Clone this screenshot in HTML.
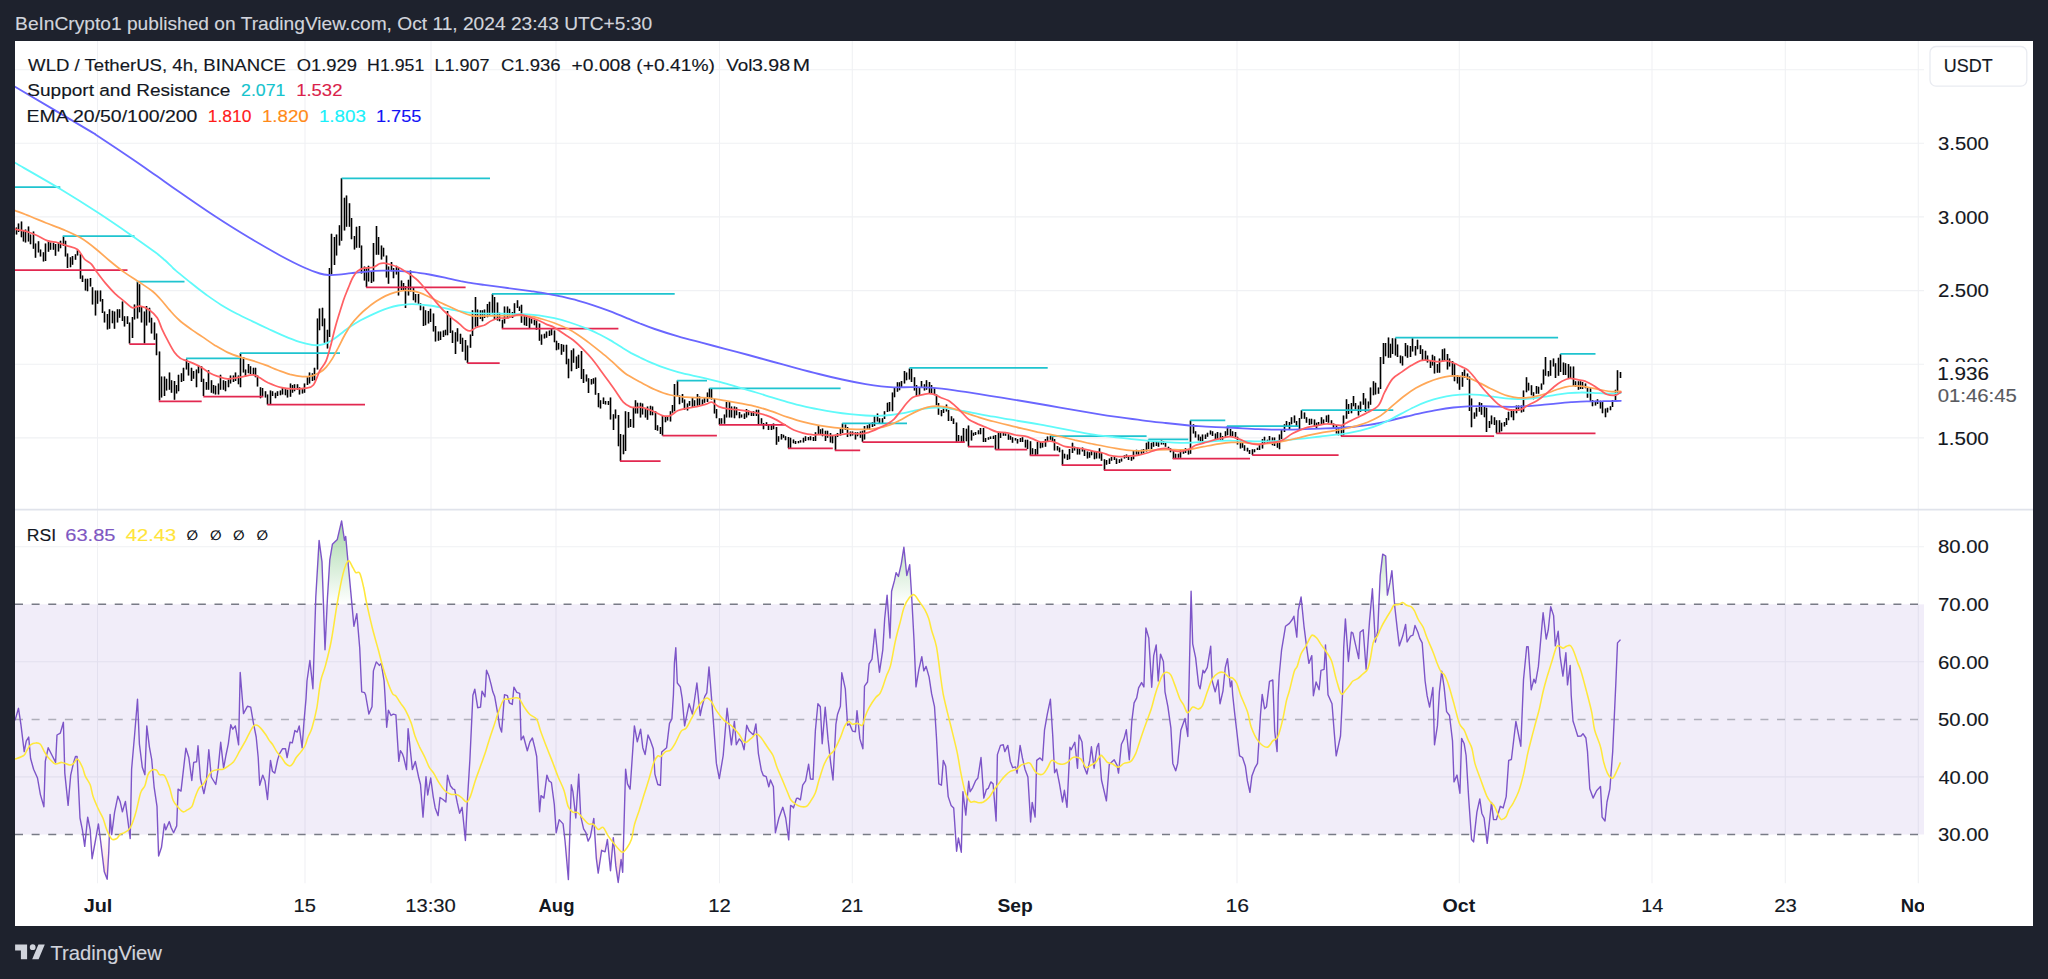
<!DOCTYPE html>
<html lang="en"><head><meta charset="utf-8"><title>WLD / TetherUS chart</title>
<style>html,body{margin:0;padding:0;background:#1e222d;}body{width:2048px;height:979px;overflow:hidden;}svg{display:block;}</style>
</head><body>
<svg width="2048" height="979" viewBox="0 0 2048 979">
<defs>
<clipPath id="cpP"><rect x="15" y="41" width="1909" height="468.6"/></clipPath>
<clipPath id="cpR"><rect x="15" y="509.6" width="1909" height="376.7"/></clipPath>
<clipPath id="cpN"><rect x="15" y="885" width="1909" height="41"/></clipPath>
<linearGradient id="gG" x1="0" y1="520" x2="0" y2="604.3" gradientUnits="userSpaceOnUse"><stop offset="0" stop-color="#4caf50" stop-opacity="0.5"/><stop offset="1" stop-color="#4caf50" stop-opacity="0"/></linearGradient>
<linearGradient id="gR" x1="0" y1="834.5" x2="0" y2="885" gradientUnits="userSpaceOnUse"><stop offset="0" stop-color="#ff5252" stop-opacity="0"/><stop offset="1" stop-color="#ff5252" stop-opacity="0.28"/></linearGradient>
</defs>
<rect width="2048" height="979" fill="#1e222d"/>
<rect x="15" y="41" width="2018" height="885" fill="#fff"/>
<path d="M97.5 41 V883.3M305 41 V883.3M431 41 V883.3M556 41 V883.3M719.5 41 V883.3M852.3 41 V883.3M1015.3 41 V883.3M1237 41 V883.3M1459.3 41 V883.3M1652 41 V883.3M1785.3 41 V883.3M1918.3 41 V883.3M15 69.7 H1924M15 143.3 H1924M15 216.9 H1924M15 290.6 H1924M15 364.2 H1924M15 437.9 H1924M15 546.7 H1924M15 661.8 H1924M15 776.9 H1924" stroke="#f0f1f4" stroke-width="1.1" fill="none"/>
<path d="M15 509.6 H2033" stroke="#e0e3eb" stroke-width="1.6"/>
<g clip-path="url(#cpR)">
<rect x="15" y="604.3" width="1909" height="230.2" fill="#7e57c2" fill-opacity="0.105"/>
<path d="M315.5 604.3L315.5 604.3L315.8 597L319.1 540.4L322 561.9L323.4 604.3L323.4 604.3ZM327.2 604.3L327.2 604.3L327.5 597L329.8 559.9L332.4 544.3L337.3 539.4L341.6 520.9L344.5 540.4L345.7 536.5L348 561.9L350.9 593.1L351.9 604.3L351.9 604.3ZM886.1 604.3L886.1 604.3L887.1 595.1L887.7 604.3L887.7 604.3ZM891.1 604.3L891.1 604.3L891.6 591.2L894.5 580.4L896.1 572.6L898.4 576.5L901.3 563.8L903.9 547.2L906.8 575.5L909.7 564.8L911.7 597L912.1 604.3L912.1 604.3ZM1190.8 604.3L1190.8 604.3L1191.1 591.2L1191.5 604.3L1191.5 604.3ZM1299.5 604.3L1299.5 604.3L1301.1 597L1301.8 604.3L1301.8 604.3ZM1371 604.3L1371 604.3L1372.4 588.8L1373.2 604.3L1373.2 604.3ZM1378.9 604.3L1378.9 604.3L1380.2 575.5L1382.7 554.1L1385.7 556L1387.4 595.1L1390 582.4L1391.9 570.7L1394.6 604.3L1394.6 604.3Z" fill="url(#gG)"/>
<path d="M83.1 834.5L83.1 834.5L84.7 846.4L85.9 834.5L85.9 834.5ZM90.5 834.5L90.5 834.5L92.1 858.7L95.1 842.5L96.5 834.5L96.5 834.5ZM99.8 834.5L99.8 834.5L100.9 843.4L104.3 871.8L107.2 879.2L108.8 851.2L109.4 834.5L109.4 834.5ZM111.7 834.5L111.7 834.5L111.7 834.6L111.7 834.5L111.7 834.5ZM129.7 834.5L129.7 834.5L130.2 838.6L130.3 834.5L130.3 834.5ZM157.9 834.5L157.9 834.5L158.6 856.1L161.5 847.3L163.1 834.5L163.1 834.5ZM464.8 834.5L464.8 834.5L465.4 840.5L465.7 834.5L465.7 834.5ZM564.3 834.5L564.3 834.5L565 840.5L568.4 879.6L569.8 834.5L569.8 834.5ZM586.4 834.5L586.4 834.5L588.1 841.1L590.4 836.6L590.8 834.5L590.8 834.5ZM594.8 834.5L594.8 834.5L596.3 858.1L598.2 873.1L601.6 850.3L605.1 851.8L607.4 839.5L610.5 870.8L613.3 837.6L615.8 865.9L618.2 882.5L621.1 859.5L622.7 872.3L623.7 834.5L623.7 834.5ZM787.9 834.5L787.9 834.5L788.7 839.9L789 834.5L789 834.5ZM955.5 834.5L955.5 834.5L956.6 851.2L958.4 838L961.3 852.2L961.7 834.5L961.7 834.5ZM1471.2 834.5L1471.2 834.5L1471.6 839.5L1473.6 841.9L1474.4 834.5L1474.4 834.5ZM1486.1 834.5L1486.1 834.5L1487.2 843.4L1488.2 834.5L1488.2 834.5Z" fill="url(#gR)"/>
<path d="M15 604.3 H1919" stroke="#787b86" stroke-width="1.5" stroke-dasharray="8 8.623" fill="none"/>
<path d="M15 719.4 H1919" stroke="#787b86" stroke-opacity="0.55" stroke-width="1.5" stroke-dasharray="8 8.623" fill="none"/>
<path d="M15 834.5 H1919" stroke="#787b86" stroke-width="1.5" stroke-dasharray="8 8.623" fill="none"/>
<path d="M15 720.4L18.5 708.3L20.9 724.3L24.2 751.6L26.3 740.9L28.7 737L30.6 758.5L33.6 769.2L37.5 778L40.4 794.6L43.9 806.7L45.3 761.4L48.2 747.7L52.1 755.5L55.6 762.4L57 735L60.3 733.1L63.4 722.3L64.8 773.1L68.1 805.4L70.7 775.1L73.6 762.4L75.5 756.5L77.1 756.5L80 818L82.4 829.8L84.7 846.4L87.7 817.1L90.2 829.8L92.1 858.7L95.1 842.5L98.4 823.9L100.9 843.4L104.3 871.8L107.2 879.2L108.8 851.2L110.1 814.5L111.7 834.6L114.6 812.2L117.9 796.2L120.1 801.4L122.4 811.8L125.4 801.4L128.3 823.9L130.2 838.6L131.6 769.2L134.5 736L137.5 699.3L139.4 743.8L142.3 767.3L144.9 774.7L146.8 725.9L149.4 746.8L151.7 759.5L154.1 786.8L157 806.3L158.6 856.1L161.5 847.3L164.4 823.9L165.8 829.8L169.3 821.6L171.2 827.8L173.6 832.7L176.7 825.9L178.1 789.1L181 791.1L183.4 770.2L185.9 748.1L188.8 757.5L191.8 780.5L193.7 762.4L196.6 761.8L198 745.8L200.5 779L203.9 793.6L206.4 780.9L208.8 749.7L211.3 777L215.8 784.5L218.1 769.2L220.7 742.3L223.6 768.2L225.9 755.5L228.3 743.8L230.8 724.7L232.8 729.2L235.3 725.9L238.6 744.8L240.2 672.5L243.5 713.6L247.4 706.3L250.7 707.1L253.3 722.3L256.2 737L258.2 757.5L259.7 785.2L262.7 775.1L265 780.9L267.5 799.5L270.5 760.4L272.4 771.2L274.8 773.1L277.7 759.5L279.6 753.6L282.6 748.7L285.5 748.7L287.1 757.5L290 742.3L292.3 742.9L294.9 730.5L297.2 732.1L299.2 725.9L302.1 747.7L304.1 720.4L306 698.9L307 681L309.9 660.5L312.9 688.8L315.8 597L319.1 540.4L322 561.9L325 649.8L327.5 597L329.8 559.9L332.4 544.3L337.3 539.4L341.6 520.9L344.5 540.4L345.7 536.5L348 561.9L350.9 593.1L353.9 626.3L356.8 613.6L359.7 647.8L361.7 691.8L364.6 692.7L365.6 695L368.9 714.1L372 706.7L373.4 670.9L376.3 661.9L379.3 665.4L381.2 663.4L384.1 681L385.1 697L386.7 727.2L388.4 710.2L391 715.5L393.3 714.1L395.9 714.9L398.8 761.4L400.4 750.7L402.3 753.6L403.7 757.5L406.5 769.6L408.1 728.6L410.1 747.7L412.4 769.6L415.3 761.4L418.6 777L420.5 784.5L423 817.1L426 776.6L427.7 795L430.7 778L433.2 796.6L435.2 807.9L438.1 815.7L440 797.5L443 799.5L445.9 802L447.5 775.1L450.4 785.8L452.7 788.8L454.7 789.7L457.2 802.4L459.6 813.2L462.1 807.3L465.4 840.5L467.4 800.5L469.9 759.5L472.9 695.3L474.8 689.2L477.7 707.7L480.5 707.1L482 691.2L485 696.8L486.5 670.3L488.9 676.1L491.2 684.9L492.8 691.8L494.7 696.6L497.7 713.6L499.6 726.2L501.6 732.1L504.5 694.6L507.4 695.7L509.4 702.8L512.3 704.4L513.9 687.2L516.8 692.3L519.7 693.4L521.1 739.9L523.4 736L527.3 750.7L529.9 741.9L532.4 738L534.8 747.7L536.7 756.5L539.6 811.8L541 795.6L543.9 798.1L546.9 775.1L549 780.9L551.4 782.5L554.3 804.4L556.2 832.7L559.2 819.6L563.1 823.9L565 840.5L568.4 879.6L571.3 784.8L572.9 791.7L575.8 818L578.7 774.1L580.7 816.1L583.6 828.8L585.9 832.7L588.1 841.1L590.4 836.6L593.8 818.4L596.3 858.1L598.2 873.1L601.6 850.3L605.1 851.8L607.4 839.5L610.5 870.8L613.3 837.6L615.8 865.9L618.2 882.5L621.1 859.5L622.7 872.3L625.6 769.2L627.5 783.9L630.1 789.1L634.4 725.9L637.3 741.9L640.6 729.2L642.8 747.7L645.1 754.6L648 735L650.6 740.9L653.3 748.7L654.9 774.1L657.8 784.5L660.4 785.2L661.7 752L666.6 747.7L669.5 723.3L671.9 718.8L673.4 695L674.4 663.4L675.8 647.8L677.3 683L680.3 686.9L682.2 698.6L684.6 725.9L689.1 703.8L692.4 714.1L694.9 697L696.9 683L700.2 715.5L701.8 707.7L704.7 696.6L706.8 692.9L709 667L710.5 684.9L713.5 723.3L716.4 763.4L719.3 778.6L723.2 755.5L727.1 708.3L731.4 744.8L734.4 721.4L736.3 744.8L739.3 738.9L741.8 741.9L744.1 749.7L746.7 725.3L749.2 731.1L753.5 735L755.9 723.9L758.4 753.6L761.3 770.2L763.3 775.5L766.2 776.6L768.8 786.8L770.5 780L773.4 786.8L775.4 832.7L778.9 818L782.8 807.3L785.7 818L788.7 839.9L790.6 805.4L792.6 806.7L793.5 807.9L795.5 801.4L796.5 798.5L797.8 798.1L800.4 799.8L802.7 785.2L805.6 780.9L808.6 764.3L810.5 779L813 779.4L815.4 730.2L817.9 703.8L820.3 706.7L822.2 743.8L825.2 707.1L828.1 739.9L830.6 762.4L833 780L835.9 724.3L837.5 714.5L840.4 706.3L841.8 672.8L845.3 688.8L847.6 725.3L849.6 723.9L852.5 731.1L855.4 731.7L857 710.6L859.9 738.9L862.9 748.7L864.5 686.1L867.5 682L869.1 663.8L872 659.1L875 629.3L877.3 651.7L879.5 672.2L882.8 649.8L884.7 618.5L887.1 595.1L890 638L891.6 591.2L894.5 580.4L896.1 572.6L898.4 576.5L901.3 563.8L903.9 547.2L906.8 575.5L909.7 564.8L911.7 597L914 640L916 686.9L918.9 669.3L921.8 656.6L923.8 670.9L926.1 666.4L929.1 677.1L931.6 693.7L934.5 706.7L936.5 738L938.8 783.9L941.4 785.2L943.3 760.4L945.7 766.3L948.2 796.6L951.1 805.4L953.7 807.9L956.6 851.2L958.4 838L961.3 852.2L962.9 791.7L965.8 815.1L968.7 781.3L970.1 791.7L972.6 787.8L975.5 780.9L977.9 778L981 757.5L983.8 798.1L986.3 789.7L988.2 788.4L990.8 781.9L993.1 783.9L996.1 821L997.4 754.6L1000.5 745.4L1003.3 744.8L1004.8 751.6L1007.8 745.4L1010.3 761.4L1012.7 767.7L1015.6 766.9L1017.1 773.1L1020.1 745.4L1022.4 757.9L1025 769.2L1027.9 777L1030.6 822L1032.2 802.4L1035.1 817.1L1036.7 760.4L1040 757.9L1042.5 760.4L1044.5 730.2L1047.4 713.6L1050.4 699.3L1052.7 735L1054.6 772.7L1056.6 769.2L1059.5 783.9L1062.5 802L1064.4 790.3L1067 807.3L1069.9 747.3L1071.2 749.7L1074.8 742.3L1077.5 768.2L1079.1 735L1082 741.9L1083.9 766.3L1086.9 774.1L1089.8 760.4L1091.4 746.8L1094.1 768.2L1097 747.3L1098.6 743.4L1101.5 780L1106.4 800.9L1109.3 764.3L1114.2 759.8L1117.1 765.3L1118.5 773.1L1121.4 744.2L1124 738.9L1126.3 729.8L1129.3 759.8L1131.8 721.4L1134.1 702.8L1136.7 697.9L1138.6 687.9L1141.6 682.6L1143.9 686.9L1145.9 627.9L1148.8 638L1151.7 687.3L1153.7 655.6L1156.2 644.9L1158.2 681L1160.5 654.1L1163.4 661.5L1165 691.8L1167.9 706.7L1170.9 728.2L1172.8 763.4L1175.7 770.8L1177.7 763.4L1180.8 730.2L1185 718.4L1187.8 736.5L1189.5 663.6L1191.1 591.2L1192.7 643.9L1195.6 657.6L1198.6 684.9L1200.1 688.8L1203 670.3L1204.4 672.8L1207.3 667.3L1210.7 646.2L1212.2 681L1215.2 691.8L1218.1 680L1220 703.8L1223 690.8L1225.3 667.3L1227.5 658.6L1230.4 686.9L1231.8 681L1232.7 695L1234.7 713.6L1237.2 735L1239.6 755.9L1242.5 757.5L1245.4 766.3L1247.4 780.9L1249.9 792.3L1251.9 776.1L1254.8 768.2L1257.5 763.4L1259.1 738L1260.5 714.5L1262.2 694.4L1264.6 708.7L1266.5 706.7L1269.5 681.4L1272.8 680L1274.7 731.1L1277.1 751.6L1278.2 695L1279.2 675.2L1281.6 649.8L1285.5 626.3L1289.4 623.4L1292.3 619.5L1293.9 616.2L1296.8 637.1L1298.2 610.7L1301.1 597L1304 626.3L1307 649.8L1308.9 663.4L1311.8 655.6L1313.4 695.7L1316.1 682L1319.1 689.8L1321 670.3L1324.1 669.3L1325.5 644.9L1328 694.7L1332 703.8L1334.3 733.1L1336.2 755.9L1338.6 744.8L1340.5 736L1342.5 695L1343.7 647.8L1345.4 618.9L1348.4 661.5L1351.3 632.2L1352.9 633.2L1355.8 645.9L1358.7 658.6L1360.1 632.2L1363.2 629.8L1366.1 669.3L1369.5 621.4L1372.4 588.8L1375.3 642L1377.7 631.2L1380.2 575.5L1382.7 554.1L1385.7 556L1387.4 595.1L1390 582.4L1391.9 570.7L1394.8 606.8L1397.4 630.2L1399.3 645.9L1402.7 636.1L1405.6 624.4L1407.1 642L1410.5 636.1L1413 635.1L1415 625.4L1417.9 632.2L1419.8 638.4L1422.2 642.9L1425.1 681L1427.1 695.7L1429.6 707.1L1432.9 687.5L1434.5 744.8L1437.4 725.9L1439.4 691.9L1441.7 671.2L1444.1 686.9L1446.6 711.6L1449.5 715.5L1452.5 740.9L1454 781.9L1457 775.1L1459.9 793.2L1461.6 738.4L1464.2 743.8L1466.1 755.5L1468.7 798.5L1471.6 839.5L1473.6 841.9L1476.9 812.2L1479.8 798.9L1481.8 813.2L1484.1 818L1487.2 843.4L1491.5 802.4L1493.5 819.6L1496.4 819.6L1500.3 806.3L1503.2 807.9L1506.2 796.6L1508.7 760.4L1511.4 759.5L1515.9 721.4L1520.8 746.2L1523.5 679.7L1526.7 646.8L1528.2 646.8L1531.2 689.8L1533.9 679.1L1535.5 683L1538.4 666.4L1540.7 640L1543.1 612.7L1546.2 639L1548.2 630.2L1550.7 606.8L1553.6 615.6L1555.3 645.9L1558.2 631.2L1560 655.6L1562.9 676.1L1565.9 652.7L1567.5 684.9L1570.2 665.4L1571.2 695L1573 721L1574.6 725.9L1577.8 736.2L1581 736L1583 733.7L1585.9 738L1587.5 751.6L1589.8 788.8L1593.1 798.1L1596.6 790.7L1600.5 786.4L1602.1 817.1L1605 821L1607 802L1609.9 788.8L1612.7 751.6L1615.8 684.1L1617.5 642.9L1620.5 639.6" stroke="#7d55c8" stroke-width="1.4" fill="none" stroke-linejoin="round"/>
<path d="M15 759.1C16.5 758.5 21.8 756.9 23.8 755.5C25.7 754.1 25.6 752.5 26.7 750.7C27.9 748.9 29.2 746.1 30.6 744.8C32.1 743.5 33.9 742.9 35.5 742.9C37.1 742.8 38.9 742.8 40.4 744.2C41.9 745.7 43 749.4 44.3 751.6C45.6 753.9 46.4 755.5 48.2 757.5C50 759.5 52.8 762.9 55 763.8C57.3 764.6 59.4 762.2 61.9 762.4C64.3 762.6 67.7 764.8 69.7 764.9C71.6 765.1 72.3 764.3 73.6 763.4C74.9 762.4 76 758.4 77.5 759.1C79 759.7 81.1 764.4 82.4 767.3C83.7 770.1 84 773.1 85.3 776.1C86.6 779 88.9 781.4 90.2 784.8C91.5 788.3 91.8 792.7 93.1 796.6C94.4 800.5 96.4 804.7 98 808.3C99.6 811.9 101.4 814.5 102.9 818C104.4 821.6 105.3 826.3 106.8 829.8C108.3 833.3 110.1 837.6 111.7 839C113.3 840.5 115.1 839.4 116.6 838.6C118 837.7 119.2 835 120.5 834.1C121.8 833.1 122.7 833.7 124.4 832.7C126 831.7 128.4 830.7 130.2 827.8C132 824.9 133.8 819.2 135.1 815.1C136.4 811 137.1 807.3 138 803.4C139 799.5 139.8 794.6 141 791.7C142.1 788.8 143.7 788.6 144.9 785.8C146 783.1 146.7 777.7 147.8 775.1C149 772.5 150.3 771 151.7 770.2C153.2 769.4 155.3 769.4 156.6 770.2C157.9 770.9 158.2 773.8 159.5 774.7C160.8 775.6 162.8 773.5 164.4 775.5C166 777.5 167.8 782.6 169.3 786.8C170.8 791 171.7 797.1 173.2 800.5C174.7 803.9 176.5 805.4 178.1 807.3C179.7 809.2 181.5 811.3 183 811.8C184.4 812.3 185.4 811.1 186.9 810.2C188.3 809.4 190.5 808.7 191.8 806.7C193.1 804.8 193.5 801.5 194.7 798.5C195.8 795.5 197.1 791.2 198.6 788.8C200.1 786.3 201.8 786 203.5 783.9C205.1 781.8 206.9 778.2 208.4 776.1C209.8 773.9 210.6 772.2 212.3 771.2C213.9 770.1 216.3 769.9 218.1 769.6C219.9 769.3 221.4 769.8 223 769.2C224.6 768.7 226.1 767.6 227.9 766.3C229.7 765 231.8 763.9 233.8 761.4C235.7 758.9 237.7 754.6 239.6 751.2C241.6 747.7 243.8 743.9 245.5 740.9C247.1 737.9 248.1 735.5 249.4 733.1C250.7 730.6 252 727.6 253.3 726.2C254.6 724.9 255.9 724.9 257.2 725.3C258.5 725.7 259.6 727 261.1 728.6C262.6 730.2 264.7 733.2 266 735C267.3 736.9 267.8 738.3 268.9 739.9C270 741.5 271.5 742.9 272.8 744.8C274.1 746.8 275.3 749.5 276.7 751.6C278.2 753.8 280.1 755.5 281.6 757.5C283.1 759.5 284.2 762 285.5 763.4C286.8 764.8 288.3 765.7 289.4 765.9C290.6 766.1 291.2 765.7 292.3 764.3C293.5 762.9 294.8 759.6 296.2 757.5C297.7 755.4 299.7 753.6 301.1 751.6C302.6 749.7 303.9 748.2 305 745.8C306.2 743.3 306.8 739.9 308 737C309.1 734.1 310.4 733 311.9 728.2C313.3 723.4 315.3 716 316.8 708.2C318.2 700.3 319.2 688.1 320.7 681C322.1 673.9 323.8 672.2 325.5 665.4C327.3 658.6 329.5 650.4 331.4 640C333.4 629.6 335.3 614 337.3 602.9C339.2 591.8 341.3 580.6 343.1 573.6C344.9 566.6 346.6 561.9 348.2 560.9C349.8 559.9 351.6 565.8 352.9 567.7C354.2 569.7 354.7 571.7 355.8 572.6C357 573.5 358.4 570.8 359.7 573.2C361 575.6 362.5 582.3 363.6 587.3C364.8 592.2 365.1 596.1 366.6 602.9C368 609.7 370.5 620.5 372.4 628.3C374.4 636.1 376.3 642.6 378.3 649.8C380.2 656.9 381.9 664.1 384.1 671.2C386.4 678.4 390 688.6 392 692.7C393.9 696.9 394.5 694.3 395.9 696C397.3 697.7 398.7 700.4 400.4 702.8C402 705.3 404 707.3 405.7 710.6C407.5 714 409.6 718.6 411.1 722.8C412.7 727.1 413.6 732 415 736C416.4 740 417.8 743 419.5 746.8C421.3 750.5 423.8 755.1 425.4 758.5C427 761.9 427.8 764.7 429.3 767.3C430.8 769.9 432.6 771.5 434.2 774.1C435.8 776.7 437.3 780.1 439.1 782.9C440.9 785.7 443 788.8 444.9 790.7C446.9 792.6 448.8 793.6 450.8 794.2C452.7 794.9 454.9 794.1 456.6 794.6C458.4 795.2 459.9 796.3 461.5 797.5C463.2 798.8 464.9 802.2 466.4 802C467.9 801.9 468.8 800.1 470.3 796.6C471.8 793 473.6 785.8 475.2 780.9C476.8 776.1 478.5 771.8 480.1 767.3C481.7 762.7 483.5 758 485 753.6C486.4 749.2 487.4 745.5 488.9 740.9C490.3 736.3 492.1 731.1 493.8 726.2C495.4 721.4 497 716 498.6 711.6C500.3 707.2 502.1 701.9 503.5 699.9C505 697.8 505.6 699.6 507.4 699.3C509.2 699 512.3 698.1 514.3 697.9C516.2 697.8 517.5 697.1 519.1 698.5C520.8 700 522.2 704 524 706.7C525.8 709.4 527.8 712.4 529.9 714.5C532 716.6 534.9 716.6 536.7 719.4C538.5 722.2 539 726.6 540.6 731.1C542.3 735.7 544.5 741.7 546.5 746.8C548.4 751.8 550.4 756.4 552.3 761.4C554.3 766.5 556.2 772.1 558.2 777C560.2 781.9 562.4 785.7 564.1 790.7C565.7 795.7 566.8 803.2 568.3 806.8C569.7 810.4 571.3 811.2 572.9 812.2C574.4 813.1 575.9 811.4 577.7 812.6C579.5 813.7 581.8 817.1 583.6 819C585.4 820.9 586.8 823 588.5 823.9C590.1 824.8 591.7 823.4 593.4 824.3C595 825.2 596.6 828.9 598.2 829.4C599.9 829.9 601.5 826.4 603.1 827.4C604.8 828.5 606.2 833 608 835.6C609.8 838.3 612.1 841.2 613.9 843.4C615.7 845.7 617.3 847.8 618.8 849.3C620.2 850.8 621.4 852.4 622.7 852.2C624 852.1 625.1 850.4 626.6 848.3C628 846.2 630.1 843.4 631.4 839.5C632.7 835.6 633.1 829.8 634.4 824.9C635.7 820 637.6 815.3 639.3 810.2C640.9 805.2 642.5 799.8 644.1 794.6C645.8 789.4 647.4 784.4 649 779C650.7 773.6 652.4 766.2 653.9 762.4C655.4 758.5 656.7 756.9 657.8 755.9C659 755 659.4 757.2 660.7 756.5C662 755.8 664 752.7 665.6 751.6C667.3 750.6 668.9 751.5 670.5 750.1C672.1 748.6 673.6 746 675.4 742.9C677.2 739.7 679.5 733.6 681.2 731.1C683 728.7 684.5 730.2 686.1 728.2C687.8 726.2 689.2 722.7 691 719.4C692.8 716.2 695.1 711.6 696.9 708.7C698.7 705.7 700.1 703.6 701.8 701.8C703.5 700 705.4 697.9 707 697.9C708.7 697.9 710 699.7 711.5 701.8C713.1 704 714.3 707.5 716.4 710.6C718.5 713.7 721.6 717.8 724.2 720.4C726.8 723 729.6 724 732 726.2C734.5 728.5 736.8 731.4 738.9 734.1C741 736.7 742.8 741.5 744.7 742.3C746.7 743.1 748.6 740.3 750.6 738.9C752.5 737.6 754.7 734.2 756.4 734.1C758.2 733.9 759.5 735.9 761.3 738C763.1 740.1 765.2 743.8 767.2 746.8C769.1 749.7 771.4 752.1 773 755.5C774.7 759 775.3 763 777 767.3C778.6 771.5 781 776.7 782.8 780.9C784.6 785.2 786.4 789.6 787.7 792.7C789 795.7 789.4 797.6 790.6 799.5C791.9 801.4 793.6 802.7 795.2 803.9C796.8 805.1 798.5 806.1 800.4 806.5C802.3 806.9 804.9 807.2 806.6 806.3C808.3 805.5 809 803.7 810.5 801.4C812 799.2 813.9 796.4 815.4 792.7C816.9 788.9 817.8 783.7 819.3 779C820.8 774.3 822.6 768.2 824.2 764.3C825.8 760.4 827.4 757.8 829.1 755.5C830.7 753.3 832.2 753.4 833.9 750.7C835.7 747.9 838 743 839.8 738.9C841.6 734.9 843.2 729.2 844.7 726.2C846.2 723.3 847.3 721.7 848.6 721.4C849.9 721 851 724 852.5 724.3C854 724.6 855.8 723.2 857.4 723.3C859 723.5 861 726.4 862.3 725.3C863.6 724.1 864.1 719.4 865.2 716.5C866.3 713.6 867.3 710.9 869.1 707.7C870.9 704.5 874.1 699.6 875.9 697.3C877.7 695 878.7 695.4 879.8 693.7C881 692 881.6 690 882.8 686.9C883.9 683.8 885.4 678.7 886.7 675.2C888 671.6 889.1 671.2 890.6 665.4C892.1 659.6 893.8 647.8 895.5 640.5C897.1 633.2 898.9 627.1 900.4 621.4C901.8 615.8 902.8 610.7 904.3 606.8C905.7 602.9 907.5 600 909.1 598C910.8 596 912.4 594.2 914 594.7C915.7 595.2 917.1 598.4 918.9 600.9C920.7 603.4 923.1 606.8 924.8 609.7C926.4 612.7 927.5 615.1 928.7 618.5C929.8 621.9 930.3 625.5 931.6 630.2C932.9 635 935 639.3 936.5 646.8C937.9 654.3 939.3 667.2 940.4 675.2C941.5 683.1 942.2 688.6 943.3 694.7C944.5 700.8 945.8 705.5 947.2 711.6C948.7 717.7 950.5 724.5 952.1 731.1C953.7 737.8 955.5 744.6 957 751.6C958.5 758.6 959.6 766.6 960.9 773.1C962.2 779.6 963.7 786.6 964.8 790.7C965.9 794.8 966.8 795.7 967.7 797.5C968.7 799.4 969.5 801.4 970.7 802C971.8 802.7 973.3 801.3 974.6 801.4C975.9 801.6 977 802.7 978.5 802.8C979.9 802.9 981.6 802.9 983.4 802C985.1 801.1 987.4 799.4 989.2 797.3C991 795.3 992.3 792.3 994.1 789.7C995.9 787.2 998.2 784.2 1000 781.9C1001.8 779.6 1003.1 777.8 1004.8 776.1C1006.6 774.3 1008.8 772.3 1010.7 771.2C1012.7 770 1014.8 770.3 1016.6 769.2C1018.4 768.2 1019.8 765.9 1021.4 764.9C1023.1 763.9 1024.9 763.6 1026.3 763.4C1027.8 763.1 1028.6 761.8 1030.2 763.4C1031.9 764.9 1034 770.9 1036.1 772.7C1038.2 774.5 1041 775 1042.9 774.1C1044.9 773.2 1046.3 769.5 1047.8 767.3C1049.3 765 1050.1 761.1 1051.7 760.4C1053.3 759.8 1055.8 762.7 1057.6 763.4C1059.4 764 1060.8 764.5 1062.5 764.3C1064.1 764.2 1065.7 763.5 1067.3 762.4C1069 761.3 1070.8 758.8 1072.2 757.9C1073.7 757 1074.7 756.9 1076.1 757.1C1077.6 757.3 1079.4 757.4 1081 759.1C1082.6 760.8 1084.3 766.2 1085.9 767.3C1087.5 768.3 1089.2 766.1 1090.8 765.3C1092.4 764.5 1094 764 1095.7 762.4C1097.3 760.8 1099.2 756.4 1100.5 755.5C1101.8 754.7 1102.3 756.4 1103.5 757.5C1104.6 758.6 1105.9 761.3 1107.4 762.4C1108.8 763.4 1110.5 762.9 1112.3 763.8C1114.1 764.6 1116.2 767.3 1118.1 767.3C1120.1 767.2 1121.9 764.3 1124 763.4C1126.1 762.4 1128.9 763 1130.8 761.4C1132.8 759.8 1134.2 756.8 1135.7 753.6C1137.2 750.3 1138 746.7 1139.6 741.9C1141.2 737.1 1143.5 730.3 1145.5 724.8C1147.4 719.3 1149.7 713.7 1151.3 708.7C1153 703.6 1153.9 698.6 1155.2 694.4C1156.5 690.1 1157.8 686.3 1159.1 683C1160.4 679.6 1161.7 676 1163 674.2C1164.3 672.4 1165.7 672.1 1167 672.2C1168.3 672.4 1169.6 673 1170.9 675.2C1172.2 677.3 1173.3 681 1174.8 684.9C1176.3 688.9 1178.4 695.4 1179.8 698.8C1181.3 702.1 1182.3 702.4 1183.6 704.8C1184.9 707.1 1186.1 712.4 1187.6 712.8C1189.2 713.2 1190.9 707.7 1192.7 707.1C1194.5 706.5 1196.9 709.3 1198.6 709.1C1200.2 708.8 1201 708.6 1202.5 705.7C1203.9 702.9 1205.7 696.2 1207.3 691.8C1209 687.3 1210.4 682.2 1212.2 679.1C1214 676 1216.2 674.3 1218.1 673.2C1220 672.1 1221.7 671.8 1223.5 672.4C1225.2 673.1 1227.3 676.2 1228.8 677.1C1230.4 678.1 1231.4 677.1 1232.7 678.1C1234 679.1 1235.3 680.2 1236.6 683C1237.9 685.7 1238.8 689.9 1240.5 694.7C1242.3 699.5 1245.6 706.2 1247.4 711.6C1249.2 717 1249.5 722.3 1251.3 727.2C1253.1 732.1 1255.5 737.5 1258.1 740.9C1260.7 744.3 1264.5 747.3 1266.9 747.3C1269.4 747.3 1271 742.6 1272.8 740.9C1274.6 739.2 1276 740.4 1277.7 737C1279.3 733.6 1281.1 726.4 1282.5 720.4C1284 714.4 1285.3 705.8 1286.4 700.9C1287.6 695.9 1288.1 695.7 1289.4 690.8C1290.7 685.8 1293 675.3 1294.3 671.2C1295.6 667.2 1296 669.3 1297.2 666.4C1298.3 663.4 1299.6 657.1 1301.1 653.7C1302.6 650.3 1304.5 648.5 1306 645.9C1307.4 643.3 1308.8 639.8 1309.9 638C1311 636.3 1311.3 635.1 1312.4 635.1C1313.6 635.1 1315.4 636.6 1316.7 638C1318.1 639.5 1319.2 641.8 1320.6 643.9C1322.1 646 1323.7 648 1325.5 650.7C1327.3 653.5 1329.6 655.8 1331.4 660.5C1333.2 665.2 1334.6 673.5 1336.2 679.1C1337.9 684.6 1339.5 691.9 1341.1 693.7C1342.8 695.5 1344.6 691.3 1346 689.8C1347.5 688.3 1348.8 686.4 1349.9 684.9C1351.1 683.5 1351.5 682.1 1352.9 681C1354.2 680 1356.1 679.8 1357.7 678.7C1359.4 677.5 1361 675.7 1362.6 674.2C1364.2 672.6 1366.2 671.9 1367.5 669.3C1368.8 666.7 1369.5 663.1 1370.4 658.6C1371.4 654 1372.2 645.7 1373.4 642C1374.5 638.2 1376 638.5 1377.3 636.1C1378.6 633.7 1379.7 630.2 1381.2 627.3C1382.6 624.4 1384.4 621.3 1386.1 618.5C1387.7 615.7 1389.6 612.9 1390.9 610.7C1392.2 608.5 1392.6 606.3 1393.9 605.2C1395.2 604.2 1397.3 604.9 1398.8 604.5C1400.2 604 1401.4 602.4 1402.7 602.5C1404 602.6 1405.1 604.6 1406.6 605.3C1408 606 1410.1 605.9 1411.4 606.8C1412.7 607.7 1413.2 608.6 1414.4 610.7C1415.5 612.8 1416.8 616.7 1418.3 619.5C1419.7 622.3 1421.7 624.2 1423.2 627.3C1424.6 630.4 1425.4 634 1427.1 638C1428.7 642.1 1431.3 647.6 1432.9 651.7C1434.6 655.8 1435.5 659.2 1436.8 662.5C1438.1 665.7 1439.4 669.1 1440.7 671.2C1442 673.4 1443.3 672.9 1444.6 675.2C1446 677.4 1447.1 680.5 1448.6 684.9C1450 689.3 1451.6 695.3 1453.4 701.7C1455.2 708.1 1457.5 718.6 1459.3 723.3C1461.1 728.1 1462.7 727.4 1464.2 730.2C1465.6 732.9 1466.8 736.8 1468.1 739.9C1469.4 743 1470.9 744.8 1472 748.7C1473.1 752.6 1473.5 758.2 1474.9 763.4C1476.4 768.6 1478.8 774.6 1480.8 780C1482.7 785.3 1485 791.9 1486.6 795.6C1488.3 799.3 1489.2 800.2 1490.5 802C1491.8 803.8 1493 803.8 1494.5 806.3C1495.9 808.8 1498.1 814.9 1499.3 817.1C1500.6 819.3 1500.7 819.7 1501.9 819.6C1503 819.5 1505 818.2 1506.2 816.5C1507.4 814.8 1508 811.4 1509.1 809.3C1510.2 807.1 1511.4 806.5 1513 803.4C1514.6 800.3 1517.1 795.7 1518.9 790.7C1520.7 785.7 1522.3 779.3 1523.8 773.1C1525.2 766.9 1526.4 759.5 1527.7 753.6C1529 747.7 1530.3 743 1531.6 738C1532.9 732.9 1534.2 728.2 1535.5 723.3C1536.8 718.4 1538.1 714.1 1539.4 708.7C1540.7 703.2 1542 696 1543.3 690.8C1544.6 685.5 1545.7 681.7 1547 677.1C1548.4 672.5 1549.9 667.9 1551.4 662.9C1553 658 1554.9 650.1 1556.3 647.3C1557.6 644.5 1558.4 646.1 1559.5 646.2C1560.6 646.4 1561.8 648.2 1562.9 648.2C1564.1 648.2 1565.3 646.7 1566.5 646.2C1567.8 645.8 1569.2 644.8 1570.4 645.7C1571.7 646.6 1572.6 648.8 1573.9 651.7C1575.1 654.6 1576.6 659.7 1577.8 662.9C1579 666.2 1579.6 666.6 1581 671.2C1582.5 675.9 1584.6 684 1586.4 690.9C1588.2 697.8 1590.4 706 1591.8 712.6C1593.1 719.1 1593.2 724.5 1594.7 730.2C1596.2 735.9 1599.1 741.5 1600.5 746.8C1602 752 1602.3 757 1603.5 761.4C1604.6 765.8 1606.1 770.4 1607.4 773.1C1608.7 775.9 1610.2 777.4 1611.3 778C1612.4 778.7 1612.9 778.3 1613.8 777C1614.8 775.7 1616 772.6 1617.1 770.2C1618.3 767.8 1619.9 763.7 1620.5 762.4" stroke="#ffe83c" stroke-width="1.55" fill="none" stroke-linejoin="round"/>
</g>
<g clip-path="url(#cpP)">
<path d="M1620.5 371.9V378.1M1617.5 370.3V393.8M1615.5 389.8V401.6M1612.5 400V407M1610.5 406.2V410.2M1607.5 407.8V412.5M1605.5 408.6V417.2M1602.5 401.6V413.3M1600.5 400.8V408.6M1597.5 399.2V403.9M1595.5 400.8V405.5M1592.5 400V406.2M1590.5 388.3V401.6M1587.5 387.5V397.7M1585.5 383.6V388.3M1582.5 382V389.1M1580.5 381.2V389.1M1578.5 381.2V389.8M1575.5 381.2V386.7M1573.5 366.4V385.9M1570.5 366.4V378.9M1568.5 364.1V378.1M1565.5 363.3V375M1563.5 362.5V375M1560.5 353.9V371.9M1558.5 357.8V375.8M1555.5 363.3V378.1M1553.5 358.6V366.4M1550.5 360.2V375.8M1548.5 371.1V376.6M1545.5 357V375.8M1543.5 369.5V384.4M1541.5 383.6V389.8M1538.5 386.7V393.8M1536.5 385.9V393.8M1533.5 392.2V399.2M1531.5 385.2V395.3M1528.5 382.8V390.6M1526.5 377.3V392.2M1523.5 390.6V411.7M1521.5 405.5V412.5M1518.5 405.5V410.9M1516.5 405.5V413.3M1513.5 409.4V420.3M1511.5 409.4V417.2M1508.5 411.7V420.3M1506.5 418V425M1504.5 421.9V426.6M1501.5 422.7V431.2M1499.5 420.3V432.8M1496.5 420.3V433.3M1494.5 417.2V425M1491.5 415.6V424.2M1489.5 421.1V428.1M1486.5 407.8V432M1484.5 407V417.2M1481.5 403.1V414.8M1479.5 402.3V411.7M1476.5 407.8V416.4M1474.5 412.5V418.8M1471.5 398.4V427.3M1469.5 376.6V410.9M1467.5 373.4V379.7M1464.5 369.5V378.1M1462.5 371.9V386.7M1459.5 376.6V389.8M1457.5 375V383.6M1454.5 364.1V381.2M1452.5 360.9V376.6M1449.5 358.6V366.4M1447.5 353.9V369.5M1444.5 348.4V360.2M1442.5 349.2V361.7M1439.5 358.6V372.7M1437.5 364.1V372.7M1434.5 356.2V373.4M1432.5 354.7V365.6M1430.5 360.2V368M1427.5 355.5V362.5M1425.5 350.8V360.2M1422.5 349.2V360.9M1420.5 345.3V353.9M1417.5 339.8V349.2M1415.5 346.1V355.5M1412.5 338.3V351.6M1410.5 346.1V357M1407.5 345.3V357.8M1405.5 343V356.2M1402.5 356.2V365.6M1400.5 355.5V363.3M1397.5 344.5V357M1395.5 338.3V355.5M1392.5 338.3V353.9M1390.5 343.8V357.8M1388.5 337.5V357.8M1385.5 343V356.2M1383.5 343V364.1M1380.5 357V389.1M1378.5 387.5V393.8M1375.5 382.8V394.5M1373.5 381.2V395.3M1370.5 387.5V404.7M1368.5 401.6V408.6M1365.5 398.4V411.7M1363.5 393V404.7M1360.5 401.6V411.7M1358.5 405.5V415.6M1355.5 403.1V409.4M1353.5 396.1V406.2M1351.5 403.1V413.3M1348.5 403.9V414.1M1346.5 399.2V418.8M1343.5 415.6V435.2M1341.5 426.6V436.2M1338.5 427.3V435.2M1336.5 425V433.6M1333.5 423.4V428.9M1331.5 420.3V425M1328.5 414.8V422.7M1326.5 415.6V421.9M1323.5 419.5V424.2M1321.5 417.2V425M1318.5 421.9V425.8M1316.5 422.7V428.1M1314.5 419.5V426.6M1311.5 418.8V424.2M1309.5 418.8V425M1306.5 417.2V422.7M1304.5 412.5V418.8M1301.5 410.2V418.8M1299.5 418V428.9M1296.5 421.1V426.6M1294.5 415.6V422.7M1291.5 417.2V424.2M1289.5 421.9V428.9M1286.5 421.1V426.6M1284.5 424.2V432M1281.5 429.7V439.1M1279.5 434.4V449.2M1277.5 443V447.7M1274.5 437.5V446.1M1272.5 437.5V445.3M1269.5 435.9V443.8M1267.5 439.8V443.8M1264.5 436.7V443.8M1262.5 439.1V448.4M1259.5 445.3V450M1257.5 447.7V450M1254.5 449.2V452.3M1252.5 449.2V455M1249.5 450V453.9M1247.5 447.7V451.6M1244.5 445.3V450.8M1242.5 443V447.7M1240.5 441.4V448.4M1237.5 436.7V444.5M1235.5 432V438.3M1232.5 431.2V435.9M1230.5 428.9V435.9M1227.5 426.2V435.2M1225.5 431.2V436.7M1222.5 435.9V439.8M1220.5 432.8V439.8M1217.5 432V439.8M1215.5 433.6V439.1M1212.5 431.2V435.9M1210.5 430.5V434.4M1207.5 432.8V436.7M1205.5 434.4V439.1M1202.5 434.4V443.8M1200.5 436.7V441.4M1198.5 434.4V440.6M1195.5 431.2V437.5M1193.5 424.2V433.6M1190.5 420.5V453.8M1188.5 449.1V454.5M1185.5 448.3V453M1183.5 449.8V453.8M1180.5 449.1V457.7M1178.5 453.8V457.7M1175.5 453.8V458.4M1173.5 449.1V458.9M1170.5 448.3V452.2M1168.5 446.7V449.8M1165.5 442V446.7M1163.5 441.2V444.4M1161.5 440.5V444.4M1158.5 441.2V446.7M1156.5 442V445.9M1153.5 442V446.7M1151.5 442.8V449.1M1148.5 439.7V449.1M1146.5 442.8V451.4M1143.5 449.1V453M1141.5 449.8V453.8M1138.5 450.6V455.3M1136.5 449.8V454.5M1133.5 450.6V459.2M1131.5 456.9V460.8M1128.5 456.1V460M1126.5 454.5V457.7M1124.5 455.3V458.4M1121.5 458.4V461.6M1119.5 459.2V463.1M1116.5 458.4V463.9M1114.5 456.9V460M1111.5 456.9V460.8M1109.5 458.4V463.9M1106.5 460V464.7M1104.5 459.2V470.2M1101.5 453V460.8M1099.5 448.3V458.4M1096.5 451.4V458.4M1094.5 451.4V459.2M1091.5 450.6V455.3M1089.5 452.2V457.7M1087.5 451.4V458.4M1084.5 449.1V456.1M1082.5 447.5V451.4M1079.5 448.3V454.5M1077.5 447.5V454.5M1074.5 446.7V450.6M1072.5 442.8V453M1069.5 449.1V459.2M1067.5 454.5V460M1064.5 453.8V458.4M1062.5 449.8V465M1059.5 447.5V452.2M1057.5 445.9V450.6M1054.5 438.9V450.6M1052.5 437.3V441.2M1050.5 435.8V439.7M1047.5 436.6V442M1045.5 438.9V446.7M1042.5 442.8V447.5M1040.5 442V448.3M1037.5 442V454.5M1035.5 449.1V455.3M1032.5 448.3V454.5M1030.5 441.2V455.3M1027.5 439.7V449.1M1025.5 439.7V447.5M1022.5 437.3V442M1020.5 438.1V442M1017.5 438.9V443.6M1015.5 438.1V440.5M1012.5 437.3V442.8M1010.5 435.8V439.7M1008.5 434.2V439.7M1005.5 433.4V435.8M1003.5 432.7V435.8M1000.5 432.7V438.1M998.5 431.9V449.5M995.5 435V449.5M993.5 435.8V438.9M990.5 436.6V438.9M988.5 437.3V439.7M985.5 438.1V442M983.5 428V442M980.5 428V434.2M978.5 430.3V434.2M975.5 431.9V435M973.5 432.7V435.8M971.5 430.3V440.5M968.5 425.6V446.7M966.5 428.8V441.2M963.5 428V442M961.5 435.8V442M958.5 435V441.2M956.5 422.5V442M953.5 418.6V424.1M951.5 416.2V420.9M948.5 410V420.9M946.5 404.5V411.6M943.5 406.9V413.1M941.5 410V416.2M938.5 403V414.7M936.5 394.4V405.3M934.5 388.1V395.2M931.5 385V393.6M929.5 381.9V393.6M926.5 380.3V389.7M924.5 384.2V390.5M921.5 381.1V388.1M919.5 387.3V395.9M916.5 385V395.9M914.5 377.2V390.5M911.5 368.6V381.9M909.5 368.6V379.5M906.5 372.5V380.3M904.5 370.9V383.4M901.5 381.1V388.1M899.5 382.3V390.2M897.5 382.3V391.7M894.5 387V397.2M892.5 392.5V411.2M889.5 401.9V411.2M887.5 402.7V412M884.5 411.2V419.1M882.5 418.3V423.8M879.5 418.3V423.8M877.5 413.6V421.4M874.5 415.2V426.1M872.5 422.2V426.9M869.5 423V430M867.5 425.3V430M864.5 426.1V439.4M862.5 430.8V441.7M860.5 431.6V437.8M857.5 432.3V436.2M855.5 432.3V439.4M852.5 431.6V435.5M850.5 431.6V436.2M847.5 426.9V437M845.5 424.5V430M842.5 423.4V433.1M840.5 428.4V435.5M837.5 433.1V437M835.5 434.7V450.3M832.5 435.5V443.3M830.5 433.1V442.5M827.5 430.8V437.8M825.5 430.8V440.9M822.5 428.4V436.2M820.5 429.2V434.7M818.5 426.1V433.9M815.5 432.3V440.9M813.5 437V440.9M810.5 436.2V440.2M808.5 437V440.2M805.5 436.2V440.9M803.5 437.8V442.5M800.5 440.2V442.5M798.5 440.9V443.3M795.5 440.9V444.1M793.5 439.4V443.3M790.5 437.8V448.3M788.5 437V448.3M785.5 436.2V440.2M783.5 434.7V437.8M781.5 433.9V439.4M778.5 436.2V441.7M776.5 426.9V444.8M773.5 423.4V429.2M771.5 425.3V430M768.5 424.5V430M766.5 422.2V426.1M763.5 423V429.2M761.5 418.3V423.8M758.5 409.7V424.5M756.5 409.7V415.9M753.5 411.2V415.9M751.5 412V415.9M748.5 410.5V415.2M746.5 408.9V417.5M744.5 413.6V419.1M741.5 414.4V417.5M739.5 412V418.3M736.5 407.3V415.2M734.5 406.6V418.3M731.5 406.6V417.5M729.5 401.9V417.5M726.5 401.9V417.5M724.5 414.4V423.8M721.5 418.3V423.8M719.5 418.3V424.8M716.5 408.9V418.3M714.5 398.8V413.6M711.5 388.4V399.5M709.5 388.4V398.8M707.5 392.5V401.9M704.5 398V402.7M702.5 399.5V405M699.5 396.4V405M697.5 394.1V405.8M694.5 400.3V406.6M692.5 397.2V407.3M689.5 401.1V405.8M687.5 403.4V410.5M684.5 399.5V409.7M682.5 394.1V402.7M679.5 395.6V404.2M677.5 380.5V396.4M674.5 383.9V411.2M672.5 405V412.8M670.5 411.2V421.4M667.5 416.7V420.6M665.5 415.9V422.2M662.5 415.2V435.6M660.5 426.9V433.9M657.5 425.3V430.8M655.5 411.2V430M652.5 406.6V415.2M650.5 405.8V415.2M647.5 406.6V419.8M645.5 408.1V417.5M642.5 403.4V414.4M640.5 402.7V417.5M637.5 402.7V413.6M635.5 400.3V413.6M633.5 407.3V427.7M630.5 419.1V426.9M628.5 412V427.7M625.5 411.2V451.1M623.5 434.7V454.2M620.5 433.9V461.2M618.5 415V446.2M615.5 409.6V418.6M613.5 414.3V429.9M610.5 397.5V419.4M608.5 401V404.9M605.5 401V404.5M603.5 397.5V404.1M600.5 400.2V408.4M598.5 393.1V407.2M595.5 377.5V394.7M593.5 378.3V383.8M591.5 379.1V384.5M588.5 378.3V393.1M586.5 374.4V381.4M583.5 368.9V383M581.5 350.9V379.1M578.5 354.8V368.1M576.5 356.4V368.9M573.5 348.6V362.7M571.5 350.2V371.2M568.5 358.8V378.3M566.5 344.7V364.2M563.5 344.7V351.7M561.5 343.9V354.8M558.5 343.1V349.4M556.5 340.8V350.2M554.5 330.6V342.3M551.5 329.1V335.3M549.5 330.6V336.1M546.5 331.4V337.7M544.5 333.8V338.4M541.5 334.5V344.7M539.5 323.6V340.8M536.5 320.5V329.8M534.5 319.7V325.2M531.5 318.9V323.6M529.5 318.1V328.3M526.5 316.6V325.9M524.5 315V325.2M521.5 304.8V322.8M519.5 306.4V311.1M517.5 300.2V308M514.5 303.3V315M512.5 311.9V318.1M509.5 308.8V316.6M507.5 306.4V318.9M504.5 306.4V323.6M502.5 319.7V328.3M499.5 312.7V321.2M497.5 302.5V320.5M494.5 297V318.9M492.5 293.9V314.2M489.5 301.7V315M487.5 304.1V317.3M484.5 309.5V318.1M482.5 310.3V321.2M480.5 310.3V318.9M477.5 309.5V325.9M475.5 297V326.7M472.5 310.3V336.1M470.5 334.5V347.8M467.5 345.5V363M465.5 340V360.3M462.5 337.7V351.7M460.5 333.8V343.9M457.5 328.3V341.6M455.5 332.2V354.1M452.5 330.6V343.1M450.5 317.3V333M447.5 311.1V335.3M445.5 329.8V335.3M443.5 330.6V336.9M440.5 331.4V340M438.5 331.4V340.8M435.5 325.9V341.6M433.5 313.4V331.4M430.5 308.8V322M428.5 311.1V323.6M425.5 310.3V325.2M423.5 306.4V325.9M420.5 303.3V310.3M418.5 293.9V304.8M415.5 293.9V302.5M413.5 287.7V300.2M410.5 270.5V291.6M408.5 279.8V295.5M405.5 286.1V308M403.5 283V290.8M401.5 280.6V290M398.5 267.3V295.5M396.5 265.8V274.4M393.5 268.1V278.3M391.5 261.9V271.2M388.5 266.6V283.8M386.5 255.6V277.5M383.5 247.8V256.4M381.5 245.5V259.5M378.5 236.9V254.8M376.5 225.9V254.8M373.5 243.1V281.4M371.5 271.2V283M368.5 265.8V281.4M366.5 267.3V287.3M364.5 266.6V280.6M361.5 245.5V273.6M359.5 225.9V247.8M356.5 226.7V247.8M354.5 236.1V249.4M351.5 218.1V239.2M349.5 203.3V226.7M346.5 195.5V226.7M344.5 197.8V230.6M341.5 178.3V240.8M339.5 225.2V245.5M336.5 234.5V255.6M334.5 236.9V265M331.5 233.8V274.4M329.5 268.1V336.9M327.5 329.7V348.4M324.5 318.6V342.8M322.5 307.8V326.2M319.5 308.4V330.3M317.5 318.6V369.4M314.5 367.8V380.3M312.5 373.3V381.1M309.5 372.5V383.4M307.5 377.2V385M304.5 383.4V392.8M302.5 388.1V393.6M299.5 387.3V394.4M297.5 384.2V389.7M294.5 384.2V391.2M292.5 385V392.8M290.5 383.4V396.7M287.5 389.7V397.5M285.5 388.9V395.2M282.5 388.1V394.4M280.5 390.5V395.2M277.5 391.2V395.9M275.5 392.8V398.3M272.5 391.2V395.9M270.5 390.5V404.5M267.5 394.4V404.5M265.5 391.2V397.5M262.5 388.1V395.9M260.5 387.3V398.3M257.5 375.6V386.6M255.5 367.8V377.2M253.5 367.8V374.8M250.5 366.2V374.1M248.5 363.9V373.3M245.5 369.4V376.4M243.5 356.9V372.5M240.5 353V387.3M238.5 375.6V384.2M235.5 372.5V381.1M233.5 375.6V381.9M230.5 375.6V383.4M228.5 379.5V387.3M225.5 381.1V391.2M223.5 380.3V389.7M220.5 374.8V389.7M218.5 383.4V394.4M215.5 385.8V394.4M213.5 385V393.6M211.5 380.3V392.8M208.5 370.2V389.7M206.5 381.9V389.7M203.5 378.8V395.9M201.5 366.2V381.9M198.5 365.5V373.3M196.5 369.4V387.3M193.5 370.9V378.8M191.5 367.8V381.1M188.5 363.1V375.6M186.5 359.2V369.4M183.5 367.8V381.1M181.5 373.3V381.9M178.5 374.8V391.2M176.5 385V393.6M174.5 381.1V399.8M171.5 380.3V392.8M169.5 372.5V389.7M166.5 378.8V390.5M164.5 376.4V395.9M161.5 376.4V397.5M159.5 351.4V400.6M156.5 333.4V355.3M154.5 322.5V339.7M151.5 317.8V333.4M149.5 307.7V322.5M146.5 306.1V325.6M144.5 311.6V343.6M141.5 306.1V322.5M139.5 284.2V312.3M137.5 281.6V318.6M134.5 304.5V319.4M132.5 317V338.1M129.5 322.5V343.6M127.5 316.2V324.1M124.5 316.2V326.4M122.5 301.4V320.9M119.5 309.2V317.8M117.5 309.2V322.5M114.5 311.6V328.8M112.5 310.8V323.3M109.5 309.2V328.8M107.5 313.9V329.5M104.5 311.6V322.5M102.5 299.1V313.1M100.5 290.5V301.4M97.5 290.5V303.8M95.5 290.5V315.5M92.5 287.3V304.5M90.5 278V286.6M87.5 278.8V291.2M85.5 278.8V290.5M82.5 275.6V281.9M80.5 253.8V278.8M77.5 250.2V255.4M75.5 254.2V259.7M72.5 256.1V264.8M70.5 257.3V267.2M67.5 253.4V267.9M65.5 240.8V256.5M63.5 236.5V245.9M60.5 240.8V248.3M58.5 242.4V251.4M55.5 243.9V255.7M53.5 242.8V249.8M50.5 242.4V249.8M48.5 240.4V251.8M45.5 243.6V260.9M43.5 252.2V261.6M40.5 249.5V256.5M38.5 241.2V252.6M35.5 243.6V257.7M33.5 231.4V248.7M30.5 234.5V244.3M28.5 226.6V241.6M25.5 229.4V242.4M23.5 230.2V241.6M21.5 221.5V237.3M18.5 223.5V232.1M16.5 227.4V234.5" stroke="#000" stroke-opacity="0.3" stroke-width="2.6" fill="none"/>
<path d="M1620.5 371.9V378.1M1617.5 370.3V393.8M1615.5 389.8V401.6M1612.5 400V407M1610.5 406.2V410.2M1607.5 407.8V412.5M1605.5 408.6V417.2M1602.5 401.6V413.3M1600.5 400.8V408.6M1597.5 399.2V403.9M1595.5 400.8V405.5M1592.5 400V406.2M1590.5 388.3V401.6M1587.5 387.5V397.7M1585.5 383.6V388.3M1582.5 382V389.1M1580.5 381.2V389.1M1578.5 381.2V389.8M1575.5 381.2V386.7M1573.5 366.4V385.9M1570.5 366.4V378.9M1568.5 364.1V378.1M1565.5 363.3V375M1563.5 362.5V375M1560.5 353.9V371.9M1558.5 357.8V375.8M1555.5 363.3V378.1M1553.5 358.6V366.4M1550.5 360.2V375.8M1548.5 371.1V376.6M1545.5 357V375.8M1543.5 369.5V384.4M1541.5 383.6V389.8M1538.5 386.7V393.8M1536.5 385.9V393.8M1533.5 392.2V399.2M1531.5 385.2V395.3M1528.5 382.8V390.6M1526.5 377.3V392.2M1523.5 390.6V411.7M1521.5 405.5V412.5M1518.5 405.5V410.9M1516.5 405.5V413.3M1513.5 409.4V420.3M1511.5 409.4V417.2M1508.5 411.7V420.3M1506.5 418V425M1504.5 421.9V426.6M1501.5 422.7V431.2M1499.5 420.3V432.8M1496.5 420.3V433.3M1494.5 417.2V425M1491.5 415.6V424.2M1489.5 421.1V428.1M1486.5 407.8V432M1484.5 407V417.2M1481.5 403.1V414.8M1479.5 402.3V411.7M1476.5 407.8V416.4M1474.5 412.5V418.8M1471.5 398.4V427.3M1469.5 376.6V410.9M1467.5 373.4V379.7M1464.5 369.5V378.1M1462.5 371.9V386.7M1459.5 376.6V389.8M1457.5 375V383.6M1454.5 364.1V381.2M1452.5 360.9V376.6M1449.5 358.6V366.4M1447.5 353.9V369.5M1444.5 348.4V360.2M1442.5 349.2V361.7M1439.5 358.6V372.7M1437.5 364.1V372.7M1434.5 356.2V373.4M1432.5 354.7V365.6M1430.5 360.2V368M1427.5 355.5V362.5M1425.5 350.8V360.2M1422.5 349.2V360.9M1420.5 345.3V353.9M1417.5 339.8V349.2M1415.5 346.1V355.5M1412.5 338.3V351.6M1410.5 346.1V357M1407.5 345.3V357.8M1405.5 343V356.2M1402.5 356.2V365.6M1400.5 355.5V363.3M1397.5 344.5V357M1395.5 338.3V355.5M1392.5 338.3V353.9M1390.5 343.8V357.8M1388.5 337.5V357.8M1385.5 343V356.2M1383.5 343V364.1M1380.5 357V389.1M1378.5 387.5V393.8M1375.5 382.8V394.5M1373.5 381.2V395.3M1370.5 387.5V404.7M1368.5 401.6V408.6M1365.5 398.4V411.7M1363.5 393V404.7M1360.5 401.6V411.7M1358.5 405.5V415.6M1355.5 403.1V409.4M1353.5 396.1V406.2M1351.5 403.1V413.3M1348.5 403.9V414.1M1346.5 399.2V418.8M1343.5 415.6V435.2M1341.5 426.6V436.2M1338.5 427.3V435.2M1336.5 425V433.6M1333.5 423.4V428.9M1331.5 420.3V425M1328.5 414.8V422.7M1326.5 415.6V421.9M1323.5 419.5V424.2M1321.5 417.2V425M1318.5 421.9V425.8M1316.5 422.7V428.1M1314.5 419.5V426.6M1311.5 418.8V424.2M1309.5 418.8V425M1306.5 417.2V422.7M1304.5 412.5V418.8M1301.5 410.2V418.8M1299.5 418V428.9M1296.5 421.1V426.6M1294.5 415.6V422.7M1291.5 417.2V424.2M1289.5 421.9V428.9M1286.5 421.1V426.6M1284.5 424.2V432M1281.5 429.7V439.1M1279.5 434.4V449.2M1277.5 443V447.7M1274.5 437.5V446.1M1272.5 437.5V445.3M1269.5 435.9V443.8M1267.5 439.8V443.8M1264.5 436.7V443.8M1262.5 439.1V448.4M1259.5 445.3V450M1257.5 447.7V450M1254.5 449.2V452.3M1252.5 449.2V455M1249.5 450V453.9M1247.5 447.7V451.6M1244.5 445.3V450.8M1242.5 443V447.7M1240.5 441.4V448.4M1237.5 436.7V444.5M1235.5 432V438.3M1232.5 431.2V435.9M1230.5 428.9V435.9M1227.5 426.2V435.2M1225.5 431.2V436.7M1222.5 435.9V439.8M1220.5 432.8V439.8M1217.5 432V439.8M1215.5 433.6V439.1M1212.5 431.2V435.9M1210.5 430.5V434.4M1207.5 432.8V436.7M1205.5 434.4V439.1M1202.5 434.4V443.8M1200.5 436.7V441.4M1198.5 434.4V440.6M1195.5 431.2V437.5M1193.5 424.2V433.6M1190.5 420.5V453.8M1188.5 449.1V454.5M1185.5 448.3V453M1183.5 449.8V453.8M1180.5 449.1V457.7M1178.5 453.8V457.7M1175.5 453.8V458.4M1173.5 449.1V458.9M1170.5 448.3V452.2M1168.5 446.7V449.8M1165.5 442V446.7M1163.5 441.2V444.4M1161.5 440.5V444.4M1158.5 441.2V446.7M1156.5 442V445.9M1153.5 442V446.7M1151.5 442.8V449.1M1148.5 439.7V449.1M1146.5 442.8V451.4M1143.5 449.1V453M1141.5 449.8V453.8M1138.5 450.6V455.3M1136.5 449.8V454.5M1133.5 450.6V459.2M1131.5 456.9V460.8M1128.5 456.1V460M1126.5 454.5V457.7M1124.5 455.3V458.4M1121.5 458.4V461.6M1119.5 459.2V463.1M1116.5 458.4V463.9M1114.5 456.9V460M1111.5 456.9V460.8M1109.5 458.4V463.9M1106.5 460V464.7M1104.5 459.2V470.2M1101.5 453V460.8M1099.5 448.3V458.4M1096.5 451.4V458.4M1094.5 451.4V459.2M1091.5 450.6V455.3M1089.5 452.2V457.7M1087.5 451.4V458.4M1084.5 449.1V456.1M1082.5 447.5V451.4M1079.5 448.3V454.5M1077.5 447.5V454.5M1074.5 446.7V450.6M1072.5 442.8V453M1069.5 449.1V459.2M1067.5 454.5V460M1064.5 453.8V458.4M1062.5 449.8V465M1059.5 447.5V452.2M1057.5 445.9V450.6M1054.5 438.9V450.6M1052.5 437.3V441.2M1050.5 435.8V439.7M1047.5 436.6V442M1045.5 438.9V446.7M1042.5 442.8V447.5M1040.5 442V448.3M1037.5 442V454.5M1035.5 449.1V455.3M1032.5 448.3V454.5M1030.5 441.2V455.3M1027.5 439.7V449.1M1025.5 439.7V447.5M1022.5 437.3V442M1020.5 438.1V442M1017.5 438.9V443.6M1015.5 438.1V440.5M1012.5 437.3V442.8M1010.5 435.8V439.7M1008.5 434.2V439.7M1005.5 433.4V435.8M1003.5 432.7V435.8M1000.5 432.7V438.1M998.5 431.9V449.5M995.5 435V449.5M993.5 435.8V438.9M990.5 436.6V438.9M988.5 437.3V439.7M985.5 438.1V442M983.5 428V442M980.5 428V434.2M978.5 430.3V434.2M975.5 431.9V435M973.5 432.7V435.8M971.5 430.3V440.5M968.5 425.6V446.7M966.5 428.8V441.2M963.5 428V442M961.5 435.8V442M958.5 435V441.2M956.5 422.5V442M953.5 418.6V424.1M951.5 416.2V420.9M948.5 410V420.9M946.5 404.5V411.6M943.5 406.9V413.1M941.5 410V416.2M938.5 403V414.7M936.5 394.4V405.3M934.5 388.1V395.2M931.5 385V393.6M929.5 381.9V393.6M926.5 380.3V389.7M924.5 384.2V390.5M921.5 381.1V388.1M919.5 387.3V395.9M916.5 385V395.9M914.5 377.2V390.5M911.5 368.6V381.9M909.5 368.6V379.5M906.5 372.5V380.3M904.5 370.9V383.4M901.5 381.1V388.1M899.5 382.3V390.2M897.5 382.3V391.7M894.5 387V397.2M892.5 392.5V411.2M889.5 401.9V411.2M887.5 402.7V412M884.5 411.2V419.1M882.5 418.3V423.8M879.5 418.3V423.8M877.5 413.6V421.4M874.5 415.2V426.1M872.5 422.2V426.9M869.5 423V430M867.5 425.3V430M864.5 426.1V439.4M862.5 430.8V441.7M860.5 431.6V437.8M857.5 432.3V436.2M855.5 432.3V439.4M852.5 431.6V435.5M850.5 431.6V436.2M847.5 426.9V437M845.5 424.5V430M842.5 423.4V433.1M840.5 428.4V435.5M837.5 433.1V437M835.5 434.7V450.3M832.5 435.5V443.3M830.5 433.1V442.5M827.5 430.8V437.8M825.5 430.8V440.9M822.5 428.4V436.2M820.5 429.2V434.7M818.5 426.1V433.9M815.5 432.3V440.9M813.5 437V440.9M810.5 436.2V440.2M808.5 437V440.2M805.5 436.2V440.9M803.5 437.8V442.5M800.5 440.2V442.5M798.5 440.9V443.3M795.5 440.9V444.1M793.5 439.4V443.3M790.5 437.8V448.3M788.5 437V448.3M785.5 436.2V440.2M783.5 434.7V437.8M781.5 433.9V439.4M778.5 436.2V441.7M776.5 426.9V444.8M773.5 423.4V429.2M771.5 425.3V430M768.5 424.5V430M766.5 422.2V426.1M763.5 423V429.2M761.5 418.3V423.8M758.5 409.7V424.5M756.5 409.7V415.9M753.5 411.2V415.9M751.5 412V415.9M748.5 410.5V415.2M746.5 408.9V417.5M744.5 413.6V419.1M741.5 414.4V417.5M739.5 412V418.3M736.5 407.3V415.2M734.5 406.6V418.3M731.5 406.6V417.5M729.5 401.9V417.5M726.5 401.9V417.5M724.5 414.4V423.8M721.5 418.3V423.8M719.5 418.3V424.8M716.5 408.9V418.3M714.5 398.8V413.6M711.5 388.4V399.5M709.5 388.4V398.8M707.5 392.5V401.9M704.5 398V402.7M702.5 399.5V405M699.5 396.4V405M697.5 394.1V405.8M694.5 400.3V406.6M692.5 397.2V407.3M689.5 401.1V405.8M687.5 403.4V410.5M684.5 399.5V409.7M682.5 394.1V402.7M679.5 395.6V404.2M677.5 380.5V396.4M674.5 383.9V411.2M672.5 405V412.8M670.5 411.2V421.4M667.5 416.7V420.6M665.5 415.9V422.2M662.5 415.2V435.6M660.5 426.9V433.9M657.5 425.3V430.8M655.5 411.2V430M652.5 406.6V415.2M650.5 405.8V415.2M647.5 406.6V419.8M645.5 408.1V417.5M642.5 403.4V414.4M640.5 402.7V417.5M637.5 402.7V413.6M635.5 400.3V413.6M633.5 407.3V427.7M630.5 419.1V426.9M628.5 412V427.7M625.5 411.2V451.1M623.5 434.7V454.2M620.5 433.9V461.2M618.5 415V446.2M615.5 409.6V418.6M613.5 414.3V429.9M610.5 397.5V419.4M608.5 401V404.9M605.5 401V404.5M603.5 397.5V404.1M600.5 400.2V408.4M598.5 393.1V407.2M595.5 377.5V394.7M593.5 378.3V383.8M591.5 379.1V384.5M588.5 378.3V393.1M586.5 374.4V381.4M583.5 368.9V383M581.5 350.9V379.1M578.5 354.8V368.1M576.5 356.4V368.9M573.5 348.6V362.7M571.5 350.2V371.2M568.5 358.8V378.3M566.5 344.7V364.2M563.5 344.7V351.7M561.5 343.9V354.8M558.5 343.1V349.4M556.5 340.8V350.2M554.5 330.6V342.3M551.5 329.1V335.3M549.5 330.6V336.1M546.5 331.4V337.7M544.5 333.8V338.4M541.5 334.5V344.7M539.5 323.6V340.8M536.5 320.5V329.8M534.5 319.7V325.2M531.5 318.9V323.6M529.5 318.1V328.3M526.5 316.6V325.9M524.5 315V325.2M521.5 304.8V322.8M519.5 306.4V311.1M517.5 300.2V308M514.5 303.3V315M512.5 311.9V318.1M509.5 308.8V316.6M507.5 306.4V318.9M504.5 306.4V323.6M502.5 319.7V328.3M499.5 312.7V321.2M497.5 302.5V320.5M494.5 297V318.9M492.5 293.9V314.2M489.5 301.7V315M487.5 304.1V317.3M484.5 309.5V318.1M482.5 310.3V321.2M480.5 310.3V318.9M477.5 309.5V325.9M475.5 297V326.7M472.5 310.3V336.1M470.5 334.5V347.8M467.5 345.5V363M465.5 340V360.3M462.5 337.7V351.7M460.5 333.8V343.9M457.5 328.3V341.6M455.5 332.2V354.1M452.5 330.6V343.1M450.5 317.3V333M447.5 311.1V335.3M445.5 329.8V335.3M443.5 330.6V336.9M440.5 331.4V340M438.5 331.4V340.8M435.5 325.9V341.6M433.5 313.4V331.4M430.5 308.8V322M428.5 311.1V323.6M425.5 310.3V325.2M423.5 306.4V325.9M420.5 303.3V310.3M418.5 293.9V304.8M415.5 293.9V302.5M413.5 287.7V300.2M410.5 270.5V291.6M408.5 279.8V295.5M405.5 286.1V308M403.5 283V290.8M401.5 280.6V290M398.5 267.3V295.5M396.5 265.8V274.4M393.5 268.1V278.3M391.5 261.9V271.2M388.5 266.6V283.8M386.5 255.6V277.5M383.5 247.8V256.4M381.5 245.5V259.5M378.5 236.9V254.8M376.5 225.9V254.8M373.5 243.1V281.4M371.5 271.2V283M368.5 265.8V281.4M366.5 267.3V287.3M364.5 266.6V280.6M361.5 245.5V273.6M359.5 225.9V247.8M356.5 226.7V247.8M354.5 236.1V249.4M351.5 218.1V239.2M349.5 203.3V226.7M346.5 195.5V226.7M344.5 197.8V230.6M341.5 178.3V240.8M339.5 225.2V245.5M336.5 234.5V255.6M334.5 236.9V265M331.5 233.8V274.4M329.5 268.1V336.9M327.5 329.7V348.4M324.5 318.6V342.8M322.5 307.8V326.2M319.5 308.4V330.3M317.5 318.6V369.4M314.5 367.8V380.3M312.5 373.3V381.1M309.5 372.5V383.4M307.5 377.2V385M304.5 383.4V392.8M302.5 388.1V393.6M299.5 387.3V394.4M297.5 384.2V389.7M294.5 384.2V391.2M292.5 385V392.8M290.5 383.4V396.7M287.5 389.7V397.5M285.5 388.9V395.2M282.5 388.1V394.4M280.5 390.5V395.2M277.5 391.2V395.9M275.5 392.8V398.3M272.5 391.2V395.9M270.5 390.5V404.5M267.5 394.4V404.5M265.5 391.2V397.5M262.5 388.1V395.9M260.5 387.3V398.3M257.5 375.6V386.6M255.5 367.8V377.2M253.5 367.8V374.8M250.5 366.2V374.1M248.5 363.9V373.3M245.5 369.4V376.4M243.5 356.9V372.5M240.5 353V387.3M238.5 375.6V384.2M235.5 372.5V381.1M233.5 375.6V381.9M230.5 375.6V383.4M228.5 379.5V387.3M225.5 381.1V391.2M223.5 380.3V389.7M220.5 374.8V389.7M218.5 383.4V394.4M215.5 385.8V394.4M213.5 385V393.6M211.5 380.3V392.8M208.5 370.2V389.7M206.5 381.9V389.7M203.5 378.8V395.9M201.5 366.2V381.9M198.5 365.5V373.3M196.5 369.4V387.3M193.5 370.9V378.8M191.5 367.8V381.1M188.5 363.1V375.6M186.5 359.2V369.4M183.5 367.8V381.1M181.5 373.3V381.9M178.5 374.8V391.2M176.5 385V393.6M174.5 381.1V399.8M171.5 380.3V392.8M169.5 372.5V389.7M166.5 378.8V390.5M164.5 376.4V395.9M161.5 376.4V397.5M159.5 351.4V400.6M156.5 333.4V355.3M154.5 322.5V339.7M151.5 317.8V333.4M149.5 307.7V322.5M146.5 306.1V325.6M144.5 311.6V343.6M141.5 306.1V322.5M139.5 284.2V312.3M137.5 281.6V318.6M134.5 304.5V319.4M132.5 317V338.1M129.5 322.5V343.6M127.5 316.2V324.1M124.5 316.2V326.4M122.5 301.4V320.9M119.5 309.2V317.8M117.5 309.2V322.5M114.5 311.6V328.8M112.5 310.8V323.3M109.5 309.2V328.8M107.5 313.9V329.5M104.5 311.6V322.5M102.5 299.1V313.1M100.5 290.5V301.4M97.5 290.5V303.8M95.5 290.5V315.5M92.5 287.3V304.5M90.5 278V286.6M87.5 278.8V291.2M85.5 278.8V290.5M82.5 275.6V281.9M80.5 253.8V278.8M77.5 250.2V255.4M75.5 254.2V259.7M72.5 256.1V264.8M70.5 257.3V267.2M67.5 253.4V267.9M65.5 240.8V256.5M63.5 236.5V245.9M60.5 240.8V248.3M58.5 242.4V251.4M55.5 243.9V255.7M53.5 242.8V249.8M50.5 242.4V249.8M48.5 240.4V251.8M45.5 243.6V260.9M43.5 252.2V261.6M40.5 249.5V256.5M38.5 241.2V252.6M35.5 243.6V257.7M33.5 231.4V248.7M30.5 234.5V244.3M28.5 226.6V241.6M25.5 229.4V242.4M23.5 230.2V241.6M21.5 221.5V237.3M18.5 223.5V232.1M16.5 227.4V234.5" stroke="#000" stroke-width="1.2" fill="none"/>
<path d="M15 187H60.3M62.7 236.2H134.5M136.9 281.6H184.5M186.1 358.4H240M240 353.1H340M341.6 178.3H490M491.9 293.9H674.7M676.9 380.5H707M709.4 388.4H840.6M842.2 423.4H907M909.4 367.8H1047.7M1050.8 436.2H1146.6M1148.4 439.4H1188.3M1190.2 420.3H1225.3M1226.9 426.2H1298.8M1301.6 410.2H1393.3M1395.3 337.5H1558.1M1560.3 353.9H1595.5" stroke="#1fc4cf" stroke-width="1.75" fill="none"/>
<path d="M15 270.2H127.5M129.4 344.1H155.6M158.8 401.4H201.7M203.3 396.7H263.4M267.3 404.5H365M366.1 287.3H465.6M467.3 363H499.7M501.7 328.6H618.4M620 461.2H660.6M662.5 435.6H716.9M719.1 424.8H785.9M788 448.3H832.8M834.8 450.3H860.2M862.5 442H964.8M968 446.7H993.8M995.3 449.5H1027.3M1029.7 455.3H1059.4M1061.7 465H1102.3M1103.9 470.2H1171.1M1172.7 458.6H1250M1252.2 455H1338.6M1340.9 436.2H1494.1M1496.2 433.3H1595.5" stroke="#e22850" stroke-width="1.75" fill="none"/>
<path d="M15 86.7C27.2 94 74.8 122 88.4 130.1C102.1 138.2 89.7 130.7 97 135.5C104.3 140.3 122.2 152.2 132.2 159C142.2 165.8 149.4 170.9 157.2 176.3C165 181.8 169.2 185 179.1 191.8C189 198.7 204.8 209.7 216.6 217.3C228.3 225 238.7 231.4 249.4 237.8C260.1 244.2 271.5 250.7 280.6 255.7C289.7 260.6 297.5 264.5 304.1 267.5C310.6 270.5 315.8 272.3 319.8 273.5C323.9 274.7 325.3 274.8 328.4 275C331.6 275.2 334.9 275 338.8 274.7C342.6 274.4 346.6 273.7 351.2 273.2C355.9 272.7 361.7 272 366.9 271.6C372.1 271.1 377.3 270.8 382.5 270.7C387.7 270.6 392.9 270.6 398.1 270.9C403.3 271.1 408.5 271.6 413.8 272.1C419 272.7 424.2 273.6 429.4 274.5C434.6 275.4 439.8 276.5 445 277.7C450.2 278.8 456.7 280.3 460.6 281.2C464.5 282 464.5 282 468.4 282.6C472.3 283.3 477.6 284 484.1 284.9C490.6 285.8 499.7 286.9 507.5 288C515.3 289 524.4 290.2 530.9 291.1C537.4 292.1 541.4 292.7 546.6 293.6C551.8 294.6 557 295.6 562.2 296.7C567.4 297.9 572.6 299.1 577.8 300.6C583 302 588.2 303.6 593.4 305.3C598.6 307 603.6 308.8 609.1 310.9C614.5 313 621.1 315.7 626.2 317.8C631.4 320 635.3 321.7 640 323.5C644.7 325.4 648.3 326.9 654.7 329C661 331.2 670.3 334.1 678.1 336.3C685.9 338.6 693.8 340.6 701.6 342.7C709.4 344.8 717.2 346.7 725 348.8C732.8 350.9 740.6 352.9 748.4 355C756.2 357.2 764.1 359.3 771.9 361.5C779.7 363.6 787.5 365.8 795.3 367.9C803.1 370 810.9 372.1 818.8 374C826.6 376 834.4 377.8 842.2 379.5C850 381.2 859.1 383 865.6 384.2C872.1 385.3 876.6 385.9 881.2 386.4C885.9 387 890.6 387.2 893.8 387.3C896.9 387.5 896.9 387.4 900 387.3C903.1 387.3 907.3 387 912.5 387.1C917.7 387.1 924.2 387.2 931.2 387.7C938.3 388.3 946.9 389.3 954.7 390.3C962.5 391.3 970.3 392.7 978.1 393.9C985.9 395.1 993.8 396.5 1001.6 397.7C1009.4 399 1017.2 400.2 1025 401.5C1032.8 402.8 1040.6 404.2 1048.4 405.5C1056.2 406.8 1064.1 408.3 1071.9 409.6C1079.7 411 1087.5 412.3 1095.3 413.6C1103.1 414.9 1110.9 416.1 1118.8 417.2C1126.6 418.3 1134.4 419.4 1142.2 420.3C1150 421.3 1159.3 422.3 1165.6 423C1171.9 423.7 1176.1 424.1 1180 424.5C1183.9 424.9 1186.5 425.2 1189.1 425.5C1191.7 425.7 1191.9 425.8 1195.6 426C1199.3 426.2 1206 426.6 1211.2 426.8C1216.5 427 1221.7 427.2 1226.9 427.5C1232.1 427.7 1237.3 428 1242.5 428.3C1247.7 428.6 1252.9 428.9 1258.1 429.1C1263.3 429.4 1268.5 429.6 1273.8 429.7C1279 429.7 1284.2 429.7 1289.4 429.6C1294.6 429.5 1299.8 429.3 1305 429.1C1310.2 428.9 1315.4 428.8 1320.6 428.6C1325.8 428.4 1331 428.3 1336.2 428C1341.5 427.8 1346.7 427.5 1351.9 427C1357.1 426.6 1362.8 425.9 1367.5 425.2C1372.2 424.5 1376.1 423.7 1380 422.9C1383.9 422.1 1386.5 421.4 1390.9 420.3C1395.4 419.2 1401.4 417.7 1406.6 416.5C1411.8 415.3 1417 414 1422.2 412.9C1427.4 411.8 1432.6 410.7 1437.8 409.8C1443 408.9 1448.4 408.1 1453.4 407.5C1458.5 406.9 1463.1 406.5 1468.1 406.3C1473.2 406.1 1478.5 406.1 1483.8 406.2C1489 406.3 1494.7 406.6 1499.4 406.7C1504.1 406.8 1507.7 406.9 1511.9 406.9C1516 406.8 1519.7 406.7 1524.4 406.4C1529.1 406.1 1534.8 405.6 1540 405.1C1545.2 404.7 1550.4 404.1 1555.6 403.6C1560.8 403.1 1566 402.6 1571.2 402.2C1576.5 401.9 1581.7 401.6 1586.9 401.4C1592.1 401.3 1598.3 401.2 1602.5 401.2C1606.7 401.1 1608.8 401.1 1611.9 401.1C1614.9 401 1619.3 400.8 1620.8 400.8" stroke="#6a66ff" stroke-width="1.85" fill="none" stroke-linejoin="round" stroke-linecap="round"/>
<path d="M15 162.8C22.6 167.2 46.5 180.7 60.3 189C74.1 197.3 85.6 204.6 97.8 212.6C110.1 220.6 124.1 230.3 133.8 237C143.4 243.7 150.4 248.8 155.6 252.6C160.8 256.5 162.4 258.1 165 260.3C167.6 262.6 169.4 264.5 171.2 266.2C173.1 268 172.7 267.8 175.9 270.6C179.2 273.3 185.8 278.9 190.8 282.8C195.7 286.8 200.5 290.6 205.6 294.3C210.7 297.9 216 301.7 221.2 304.9C226.5 308.2 231.7 311 236.9 313.8C242.1 316.5 247.3 318.9 252.5 321.4C257.7 323.9 262.9 326.3 268.1 328.8C273.3 331.2 278.5 333.7 283.8 335.9C289 338.1 294.7 340.4 299.4 341.9C304.1 343.4 308.4 344.4 311.9 344.9C315.3 345.4 317.3 345.4 320 345C322.7 344.6 325.2 343.8 327.8 342.6C330.4 341.4 333 339.6 335.6 337.8C338.2 336 340.8 333.7 343.4 331.7C346 329.8 348.4 327.9 351.2 326C354.1 324.1 357.5 322.1 360.6 320.3C363.8 318.6 366.9 317.1 370 315.6C373.1 314.2 376.2 312.7 379.4 311.4C382.5 310.1 385.6 308.9 388.8 307.9C391.9 306.9 395 306.1 398.1 305.5C401.2 304.9 404.4 304.5 407.5 304.3C410.6 304.1 413.2 304.1 416.9 304.3C420.5 304.5 425.2 304.9 429.4 305.5C433.5 306.1 437.7 306.9 441.9 307.7C446 308.4 450.2 309.4 454.4 310.2C458.5 311 462.7 311.8 466.9 312.4C471 312.9 473.9 313.2 479.4 313.4C484.8 313.6 492.4 313.6 499.7 313.7C507 313.8 516.6 313.9 523.1 314.1C529.6 314.4 533.5 314.8 538.8 315.4C544 316.1 549.2 317.1 554.4 318.2C559.6 319.4 564.8 320.9 570 322.5C575.2 324.2 580.9 326.3 585.6 328.2C590.3 330 594 331.8 598.1 333.8C602.3 335.8 607.7 338.8 610.6 340.4C613.5 342 613.5 342.2 615.6 343.5C617.7 344.8 620.5 346.7 623.1 348.3C625.7 349.9 628.4 351.5 631.2 353.1C634.1 354.6 637.4 356.2 640 357.5C642.6 358.8 643.1 359.1 646.9 360.8C650.6 362.4 657.3 365.3 662.5 367.2C667.7 369.1 672.9 370.7 678.1 372.2C683.3 373.6 688.5 374.7 693.8 375.8C699 377 704.2 378 709.4 379.3C714.6 380.5 719.8 381.8 725 383.3C730.2 384.7 735.4 386.3 740.6 387.8C745.8 389.4 751 391 756.2 392.5C761.5 394.1 766.7 395.8 771.9 397.4C777.1 399 782.3 400.6 787.5 402.1C792.7 403.5 797.9 404.9 803.1 406.1C808.3 407.4 813.5 408.4 818.8 409.4C824 410.4 829.2 411.3 834.4 412.1C839.6 412.9 844.8 413.6 850 414.2C855.2 414.8 860.9 415.3 865.6 415.5C870.3 415.8 874 415.8 878.1 415.8C882.3 415.7 887 415.4 890.6 415C894.3 414.7 896.4 414.4 900 413.7C903.6 413.1 908.3 412 912.5 411.1C916.7 410.3 921.1 409.3 925 408.7C928.9 408.2 932.3 407.8 935.9 407.7C939.6 407.6 942.4 407.7 946.9 408.3C951.3 408.8 957.3 409.8 962.5 410.8C967.7 411.7 972.9 412.8 978.1 413.8C983.3 414.8 988.5 415.8 993.8 416.7C999 417.7 1004.2 418.5 1009.4 419.4C1014.6 420.2 1019.8 421.1 1025 422C1030.2 422.8 1035.4 423.7 1040.6 424.7C1045.8 425.6 1051 426.6 1056.2 427.6C1061.5 428.6 1066.7 429.7 1071.9 430.7C1077.1 431.7 1082.3 432.7 1087.5 433.6C1092.7 434.5 1097.9 435.2 1103.1 435.9C1108.3 436.5 1113.5 437.1 1118.8 437.6C1124 438.2 1129.2 438.8 1134.4 439.3C1139.6 439.8 1144.8 440.4 1150 440.9C1155.2 441.3 1160.5 441.8 1165.6 442.1C1170.7 442.4 1176.6 442.7 1180.6 442.8C1184.7 443 1186.2 442.9 1190 442.7C1193.8 442.6 1198.6 442.2 1203.4 441.9C1208.3 441.6 1214.4 441.1 1219.1 440.9C1223.8 440.7 1227.1 440.6 1231.6 440.7C1236 440.7 1241.2 441 1245.6 441.1C1250.1 441.2 1253.4 441.4 1258.1 441.4C1262.8 441.4 1268.5 441.3 1273.8 441.1C1279 440.8 1284.2 440.4 1289.4 439.9C1294.6 439.5 1299.8 438.8 1305 438.3C1310.2 437.7 1315.4 437.1 1320.6 436.5C1325.8 435.9 1331 435.4 1336.2 434.7C1341.5 434 1346.7 433.4 1351.9 432.4C1357.1 431.4 1362.8 430.1 1367.5 428.7C1372.2 427.4 1376.1 425.9 1380 424.3C1383.9 422.7 1387.3 421 1390.9 419.2C1394.6 417.3 1398 415.4 1401.9 413.4C1405.8 411.3 1410.2 408.9 1414.4 407C1418.5 405 1422.7 403.2 1426.9 401.7C1431.1 400.2 1435.4 398.8 1439.7 397.8C1444 396.7 1447.8 395.9 1452.5 395.4C1457.2 394.8 1463.4 394.3 1468.1 394.3C1472.8 394.2 1476.5 394.6 1480.6 395C1484.8 395.4 1489 396.1 1493.1 396.7C1497.3 397.3 1501.5 398 1505.6 398.4C1509.8 398.8 1514 399.1 1518.1 399.1C1522.3 399.2 1526.5 399 1530.6 398.6C1534.8 398.2 1539 397.5 1543.1 396.9C1547.3 396.3 1551.5 395.4 1555.6 394.8C1559.8 394.2 1564 393.5 1568.1 393.1C1572.3 392.8 1576.5 392.5 1580.6 392.5C1584.8 392.4 1589 392.6 1593.1 392.8C1597.3 393 1602.2 393.4 1605.6 393.5C1609 393.6 1610.9 393.6 1613.4 393.5C1616 393.5 1619.6 393.1 1620.8 393" stroke="#60fafa" stroke-width="1.8" fill="none" stroke-linejoin="round" stroke-linecap="round"/>
<path d="M15 210.5C17.6 211.5 25.4 214.4 30.6 216.5C35.8 218.6 40.8 220.8 46.2 223C51.7 225.2 57.7 227.1 63.4 229.6C69.2 232.1 75.2 234.6 80.6 237.8C86.1 241.1 91.4 245.3 96.2 249.2C101.1 253.1 105.2 257.1 109.9 261C114.6 264.9 119.6 269 124.4 272.4C129.1 275.8 133.8 278.4 138.4 281.6C143.1 284.7 148.9 288.4 152.5 291.3C156.1 294.2 157.4 295.8 160.3 299C163.2 302.1 166.6 306.7 169.7 310.2C172.8 313.7 175.4 316.8 179.1 320C182.7 323.3 187.7 326.8 191.6 329.6C195.5 332.4 198.6 334.2 202.5 336.9C206.4 339.5 210.8 342.8 215 345.4C219.2 347.9 223.3 350.4 227.5 352.4C231.7 354.3 235.8 355.7 240 357.1C244.2 358.4 248.3 359.3 252.5 360.6C256.7 361.9 260.8 363.3 265 364.9C269.2 366.4 273.3 368.4 277.5 370C281.7 371.5 285.8 373.1 290 374.3C294.2 375.4 298.9 376.4 302.5 376.7C306.1 376.9 309 376.5 311.9 375.8C314.8 375.1 317.6 373.7 320 372.3C322.4 370.8 324.2 369.5 326.2 367.1C328.3 364.8 330.4 361.8 332.5 358.4C334.6 354.9 336.7 350.6 338.8 346.6C340.8 342.7 342.9 338.2 345 334.5C347.1 330.8 348.9 327.7 351.2 324.5C353.6 321.3 356.5 318.1 359.1 315.4C361.7 312.7 364 310.6 366.9 308.3C369.7 305.9 373.1 303.4 376.2 301.3C379.4 299.3 382.5 297.4 385.6 295.9C388.8 294.4 391.9 293.2 395 292.3C398.1 291.4 401.5 290.8 404.4 290.5C407.2 290.3 409.6 290.5 412.2 290.9C414.8 291.3 417.1 291.9 420 292.9C422.9 293.9 426.2 295.5 429.4 297C432.5 298.4 435.4 300.1 438.8 301.7C442.1 303.4 446 305.1 449.7 306.8C453.3 308.5 457.2 310.3 460.6 311.7C464 313.1 467.4 314.5 470 315.2C472.6 316 472.6 316 476.2 316.1C479.9 316.2 486.7 316 491.9 315.9C497.1 315.9 502.8 315.8 507.5 315.7C512.2 315.7 516.1 315.4 520 315.5C523.9 315.6 527.3 315.8 530.9 316.4C534.6 316.9 538 317.9 541.9 319C545.8 320.1 550.2 321.5 554.4 323C558.5 324.6 563 326.3 566.9 328.3C570.8 330.2 574.2 332.3 577.8 334.7C581.5 337.1 584.8 339.7 588.8 342.6C592.7 345.6 597.4 349.3 601.2 352.4C605.1 355.5 608.4 358.4 611.6 361.2C614.7 363.9 617.8 367 620 369C622.2 371 623.4 372 625 373.2C626.6 374.4 627 374.7 629.4 376.1C631.8 377.6 635.3 379.6 639.5 381.8C643.8 384 649.6 387.3 654.7 389.5C659.8 391.7 665.1 393.8 670.3 395C675.5 396.3 680.7 396.7 685.9 397.2C691.1 397.6 697.1 397.5 701.6 397.7C706 397.9 708.6 398 712.5 398.5C716.4 399 720.3 399.8 725 400.6C729.7 401.4 735.4 402.4 740.6 403.4C745.8 404.4 751 405.2 756.2 406.6C761.5 407.9 766.7 409.7 771.9 411.4C777.1 413.2 782.3 415.4 787.5 417.1C792.7 418.8 797.9 420.5 803.1 421.9C808.3 423.2 813.5 424.4 818.8 425.4C824 426.3 829.2 427.1 834.4 427.7C839.6 428.3 844.8 428.8 850 429.1C855.2 429.4 860.9 429.6 865.6 429.4C870.3 429.2 874 428.8 878.1 428C882.3 427.3 887 425.9 890.6 424.6C894.3 423.4 896.9 421.9 900 420.3C903.1 418.7 906.2 416.7 909.4 415C912.5 413.3 915.6 411.7 918.8 410.4C921.9 409.1 925.3 407.9 928.1 407.2C931 406.6 932.8 406.3 935.9 406.2C939.1 406.2 943.5 406.7 946.9 407.2C950.3 407.8 953.1 408.7 956.2 409.6C959.4 410.5 962 411.6 965.6 412.8C969.3 414.1 973.4 415.5 978.1 417C982.8 418.4 988.5 420.1 993.8 421.5C999 422.9 1004.2 424.2 1009.4 425.4C1014.6 426.7 1020.3 428 1025 429.1C1029.7 430.2 1033.3 431.2 1037.5 432.1C1041.7 432.9 1045.8 433.6 1050 434.4C1054.2 435.2 1058.3 436 1062.5 437C1066.7 437.9 1070.8 439.1 1075 440.2C1079.2 441.2 1082.8 442 1087.5 443C1092.2 444 1097.9 445 1103.1 446C1108.3 447 1114.1 448.1 1118.8 448.9C1123.4 449.6 1127.1 450.2 1131.2 450.5C1135.4 450.8 1139.6 450.8 1143.8 450.7C1147.9 450.6 1152.1 450 1156.2 449.8C1160.4 449.6 1164.6 449.5 1168.8 449.5C1172.9 449.5 1177.7 450 1181.2 449.9C1184.8 449.9 1186.3 449.8 1190 449.3C1193.7 448.7 1198.6 447.6 1203.4 446.7C1208.3 445.8 1214.4 444.6 1219.1 443.9C1223.8 443.1 1227.7 442.6 1231.6 442.4C1235.5 442.2 1239.1 442.3 1242.5 442.5C1245.9 442.7 1248.8 443.3 1251.9 443.6C1255 443.8 1257.6 444.1 1261.2 444C1264.9 443.9 1269.6 443.4 1273.8 442.9C1277.9 442.3 1282.3 441.5 1286.2 440.7C1290.2 439.9 1293.5 439 1297.2 438.2C1300.8 437.3 1304.2 436.3 1308.1 435.4C1312 434.6 1316.5 433.7 1320.6 432.9C1324.8 432.2 1329 431.6 1333.1 430.9C1337.3 430.2 1341.7 429.4 1345.6 428.5C1349.5 427.7 1352.9 426.8 1356.6 425.8C1360.2 424.7 1363.9 423.7 1367.5 422.3C1371.1 420.8 1375.3 418.9 1378.4 417.1C1381.6 415.3 1383.6 413.4 1386.2 411.3C1388.9 409.2 1390.9 407 1394.1 404.4C1397.2 401.8 1401.4 398.2 1405 395.5C1408.6 392.8 1412.3 390.2 1415.9 388.1C1419.6 385.9 1422.9 384.3 1426.9 382.6C1430.8 381 1435.9 379.2 1439.7 378.2C1443.4 377.1 1445.7 376.5 1449.4 376.2C1453.1 375.9 1458.2 375.9 1461.9 376.4C1465.5 376.8 1468.1 377.7 1471.2 378.9C1474.4 380.1 1477.5 381.8 1480.6 383.4C1483.8 385 1486.9 386.7 1490 388.3C1493.1 389.8 1496.2 391.4 1499.4 392.7C1502.5 394 1505.6 395.3 1508.8 396.1C1511.9 397 1515 397.5 1518.1 397.8C1521.2 398 1524.4 397.9 1527.5 397.6C1530.6 397.3 1533.8 396.8 1536.9 396.1C1540 395.4 1543.1 394.5 1546.2 393.5C1549.4 392.5 1552.5 391.1 1555.6 390C1558.8 389 1562.1 387.8 1565 387.1C1567.9 386.5 1570.2 386.1 1572.8 386C1575.4 385.8 1578 386 1580.6 386.2C1583.2 386.4 1585.8 386.8 1588.4 387.3C1591 387.7 1593.6 388.3 1596.2 388.8C1598.9 389.4 1601.5 390.1 1604.1 390.5C1606.7 391 1609.1 391.4 1611.9 391.6C1614.7 391.7 1619.3 391.4 1620.8 391.4" stroke="#ffa858" stroke-width="1.75" fill="none" stroke-linejoin="round" stroke-linecap="round"/>
<path d="M15 229.2C16.6 229.5 21 229.9 24.4 230.8C27.8 231.7 31.4 233 35.3 234.7C39.2 236.4 44.2 239.6 47.8 240.9C51.5 242.2 54.1 241.7 57.2 242.5C60.3 243.3 63.2 244.5 66.6 245.6C69.9 246.8 74.5 247.3 77.5 249.5C80.5 251.8 82.2 256.6 84.5 259.1C86.9 261.5 89.5 262.2 91.6 264.4C93.6 266.6 94.8 269.3 97 272.3C99.3 275.4 102.2 279.3 105.2 282.9C108.2 286.4 111.8 290.5 115 293.6C118.2 296.7 121.5 299.1 124.4 301.4C127.2 303.8 129.6 306.9 132.2 307.7C134.8 308.4 137.1 305.7 140 306.1C142.9 306.5 146.5 308 149.4 310C152.2 312 155.1 314.7 157.2 317.8C159.3 320.9 160.1 324.8 161.9 328.8C163.7 332.7 166 337.3 168.1 341.2C170.2 345.2 172.3 349.3 174.4 352.2C176.5 355.1 178.5 357 180.6 358.4C182.7 359.9 183.8 359.5 186.9 360.8C190 362.1 195.5 364.2 199.4 366.2C203.3 368.3 207.2 371.6 210.3 373.3C213.4 375 215.3 375.5 218.1 376.4C221 377.3 223.9 378.6 227.5 378.8C231.1 378.9 235.8 377.8 240 377.2C244.2 376.5 249.4 374.8 252.5 374.8C255.6 374.8 256.1 375.9 258.8 377.2C261.4 378.5 264.5 381 268.1 382.7C271.8 384.3 276.5 386.3 280.6 387.3C284.8 388.4 289 388.8 293.1 388.9C297.3 389 302.2 388.8 305.6 388.1C309 387.5 311.1 387.9 313.4 385C315.8 382.1 317.7 374.7 319.8 370.7C322 366.7 324.3 365.2 326.1 360.9C327.9 356.7 329.2 351.1 330.8 345.3C332.4 339.5 333.5 333.4 335.6 325.9C337.7 318.5 341.4 306.8 343.4 300.5C345.5 294.3 346.6 292.3 348.1 288.4C349.7 284.6 351.2 280.4 352.8 277.5C354.4 274.6 355.7 272.8 357.5 271.2C359.3 269.7 361.1 268.8 363.8 268.1C366.4 267.5 370.5 268.1 373.1 267.3C375.7 266.6 377.6 264.5 379.4 263.8C381.2 263 382.2 263 384.1 263.1C385.9 263.3 388 263.8 390.3 264.5C392.7 265.2 395.3 266 398.1 267.3C401 268.7 404.6 271 407.5 272.8C410.4 274.6 413 276.3 415.3 278.3C417.7 280.2 419.5 282.2 421.6 284.5C423.6 286.9 426 290.1 427.8 292.3C429.6 294.6 430.2 295.1 432.5 297.8C434.8 300.5 438.8 305.5 441.9 308.8C445 312 448.4 314.9 451.2 317.3C454.1 319.8 456.7 321.6 459.1 323.6C461.4 325.5 463.5 327.8 465.3 329.1C467.1 330.3 468.2 331.2 470 330.9C471.8 330.7 473.9 328.5 476.2 327.5C478.6 326.5 481.5 326.3 484.1 325.2C486.7 324 489.3 321.6 491.9 320.5C494.5 319.3 497.1 318.5 499.7 318.1C502.3 317.7 505.2 318.5 507.5 318.1C509.8 317.7 511.7 316.4 513.8 315.8C515.8 315.2 517.7 314.6 520 314.7C522.3 314.8 524.7 315.6 527.8 316.6C530.9 317.5 535.6 319.2 538.8 320.5C541.9 321.8 544 323.2 546.6 324.4C549.2 325.5 551.5 325.9 554.4 327.5C557.2 329.1 560.6 331.7 563.8 333.8C566.9 335.8 570 337.5 573.1 340C576.2 342.5 579.4 345.5 582.5 348.6C585.6 351.7 588.8 355 591.9 358.8C595 362.5 598.5 367.5 601.2 371.2C604 375 605.9 377.6 608.4 381.1C610.9 384.6 613.8 388.5 616.2 392C618.7 395.5 620.9 399.7 623.3 402.2C625.6 404.7 628.3 406 630.3 406.9C632.4 407.8 633.7 407.4 635.6 407.5C637.6 407.6 639 406.6 641.9 407.3C644.8 407.9 649.7 409.9 653.1 411.2C656.6 412.6 659.6 414.9 662.5 415.6C665.4 416.4 667.7 416.5 670.3 415.6C672.9 414.8 675.3 411.7 678.1 410.5C681 409.2 684.4 408.8 687.5 408.1C690.6 407.5 693.8 407.2 696.9 406.6C700 405.9 703.8 404.9 706.2 404.2C708.7 403.5 709.6 401.8 711.7 402.2C713.8 402.6 716 405.4 718.8 406.6C721.5 407.7 725 408.4 728.1 408.9C731.2 409.4 734.4 409.3 737.5 409.7C740.6 410.1 743.8 410.7 746.9 411.2C750 411.8 753.1 412.2 756.2 412.8C759.4 413.5 762.5 414.1 765.6 415.2C768.8 416.2 771.9 417.5 775 419.1C778.1 420.6 781.2 422.7 784.4 424.5C787.5 426.4 790.6 428.6 793.8 430C796.9 431.4 800 432.3 803.1 433.1C806.2 433.9 809.4 434.4 812.5 434.7C815.6 434.9 818.8 434.6 821.9 434.7C825 434.8 828.1 435.5 831.2 435.5C834.4 435.5 837.5 435 840.6 434.7C843.8 434.3 846.9 433.6 850 433.4C853.1 433.3 856.2 434.1 859.4 433.9C862.5 433.7 865.6 433.3 868.8 432.3C871.9 431.4 875 429.9 878.1 428.4C881.2 427 884.9 425.3 887.5 423.8C890.1 422.2 891.7 421.4 893.8 419.4C895.8 417.4 897.9 414.5 900 411.9C902.1 409.3 904.2 406.1 906.2 403.8C908.3 401.4 910.2 398.9 912.5 397.5C914.8 396.1 917.7 395.8 920.3 395.2C922.9 394.5 925.8 393.7 928.1 393.6C930.5 393.5 932.3 393.7 934.4 394.4C936.5 395 938.3 396.5 940.6 397.5C943 398.5 945.8 399.1 948.4 400.6C951 402.2 953.9 404.8 956.2 406.9C958.6 409 960.4 411 962.5 413.1C964.6 415.2 966.1 417.6 968.8 419.4C971.4 421.2 975 422.6 978.1 424.1C981.2 425.5 984.4 426.7 987.5 428C990.6 429.3 993.8 431.1 996.9 431.9C1000 432.7 1003.1 432.1 1006.2 432.7C1009.4 433.2 1012.5 434.4 1015.6 435C1018.8 435.6 1022.1 435.6 1025 436.2C1027.9 436.9 1030.2 437.9 1032.8 438.9C1035.4 439.9 1037.8 441.6 1040.6 442C1043.5 442.4 1047.4 441.1 1050 441.2C1052.6 441.4 1053.6 441.9 1056.2 442.8C1058.9 443.7 1062.5 445.9 1065.6 446.7C1068.8 447.5 1071.9 447.1 1075 447.5C1078.1 447.9 1081.2 448.4 1084.4 449.1C1087.5 449.7 1090.6 450.8 1093.8 451.4C1096.9 452.1 1100.5 452.3 1103.1 453C1105.7 453.6 1106.8 454.7 1109.4 455.3C1112 455.9 1115.6 456.4 1118.8 456.6C1121.9 456.7 1125 456.3 1128.1 456.1C1131.2 455.9 1134.4 455.8 1137.5 455.3C1140.6 454.8 1143.8 453.9 1146.9 453C1150 452.1 1153.1 450.6 1156.2 449.8C1159.4 449.1 1162.8 448.2 1165.6 448.3C1168.5 448.4 1170.8 450.1 1173.4 450.6C1176 451.1 1178.5 451.7 1181.2 451.4C1184 451.1 1187.6 449.8 1190 448.8C1192.4 447.7 1192.9 446.4 1195.6 445.3C1198.4 444.2 1202.9 443.2 1206.6 442.2C1210.2 441.1 1213.6 440 1217.5 439.1C1221.4 438.2 1226.4 436.7 1230 436.7C1233.6 436.7 1236.2 438 1239.4 439.1C1242.5 440.1 1245.6 442.1 1248.8 443C1251.9 443.9 1255 444.5 1258.1 444.5C1261.2 444.5 1264.4 443.4 1267.5 443C1270.6 442.5 1274.3 442.4 1276.9 441.9C1279.5 441.4 1280.5 441.2 1283.1 439.8C1285.7 438.5 1288.9 435.5 1292.5 433.6C1296.1 431.6 1301.1 429.4 1305 428.1C1308.9 426.8 1312.3 426.5 1315.9 425.8C1319.6 425.1 1323.5 423.9 1326.9 423.8C1330.3 423.6 1333.6 424.8 1336.2 425C1338.9 425.2 1340.4 425.6 1342.5 425C1344.6 424.4 1346.1 422.9 1348.8 421.6C1351.4 420.3 1355 418.7 1358.1 417.2C1361.2 415.7 1364.1 414.5 1367.5 412.5C1370.9 410.5 1375.6 408.9 1378.4 405.5C1381.3 402.1 1382.3 396.6 1384.7 392.2C1387 387.8 1389.6 382.3 1392.5 378.9C1395.4 375.5 1398.8 374.1 1401.9 371.9C1405 369.7 1408.1 367.5 1411.2 365.6C1414.4 363.8 1417.5 361.5 1420.6 360.6C1423.8 359.8 1427.1 360.4 1430 360.6C1432.9 360.8 1435.4 361.7 1438.1 361.7C1440.8 361.7 1443.9 360.5 1446.2 360.6C1448.6 360.8 1449.9 361.5 1452.5 362.5C1455.1 363.5 1459.3 365.6 1461.9 366.9C1464.5 368.2 1466 368.6 1468.1 370.3C1470.2 372.1 1472 374.5 1474.4 377.3C1476.7 380.2 1479.6 384.4 1482.2 387.5C1484.8 390.6 1487.4 393.4 1490 396.1C1492.6 398.8 1495.2 401.8 1497.8 403.9C1500.4 406 1503.3 407.6 1505.6 408.6C1508 409.6 1509.3 410 1511.9 410.2C1514.5 410.3 1518.6 410.2 1521.2 409.4C1523.9 408.6 1524.9 406.9 1527.5 405.5C1530.1 404 1533.8 402.7 1536.9 400.8C1540 398.8 1543.4 396.1 1546.2 393.8C1549.1 391.4 1551.5 388.8 1554.1 386.7C1556.7 384.6 1559.3 382.6 1561.9 381.2C1564.5 379.9 1567.1 378.7 1569.7 378.4C1572.3 378.2 1574.9 379.2 1577.5 379.7C1580.1 380.2 1582.7 380.3 1585.3 381.2C1587.9 382.2 1590.5 383.6 1593.1 385.2C1595.7 386.7 1598.6 389.1 1600.9 390.6C1603.3 392.2 1604.8 393.8 1607.2 394.5C1609.6 395.3 1613.1 395.5 1615.4 395.2C1617.7 394.8 1619.9 392.7 1620.8 392.2" stroke="#ff6064" stroke-width="1.75" fill="none" stroke-linejoin="round" stroke-linecap="round"/>
</g>
<g font-family="Liberation Sans, Arial, sans-serif">
<text x="15.1" y="29.9" font-size="18.2" fill="#d1d4dc" stroke="#d1d4dc" stroke-width="0.15" textLength="637.01" lengthAdjust="spacingAndGlyphs">BeInCrypto1 published on TradingView.com, Oct 11, 2024 23:43 UTC+5:30</text>
<text x="28.1" y="71.1" font-size="17.1" fill="#131722" stroke="#131722" stroke-width="0.15" textLength="257.87" lengthAdjust="spacingAndGlyphs">WLD / TetherUS, 4h, BINANCE</text>
<text x="296.7" y="71.1" font-size="17.1" fill="#131722" stroke="#131722" stroke-width="0.15" textLength="60.34" lengthAdjust="spacingAndGlyphs">O1.929</text>
<text x="367.1" y="71.1" font-size="17.1" fill="#131722" stroke="#131722" stroke-width="0.15" textLength="57.22" lengthAdjust="spacingAndGlyphs">H1.951</text>
<text x="434.5" y="71.1" font-size="17.1" fill="#131722" stroke="#131722" stroke-width="0.15" textLength="55.08" lengthAdjust="spacingAndGlyphs">L1.907</text>
<text x="501" y="71.1" font-size="17.1" fill="#131722" stroke="#131722" stroke-width="0.15" textLength="59.65" lengthAdjust="spacingAndGlyphs">C1.936</text>
<text x="571.6" y="71.1" font-size="17.1" fill="#131722" stroke="#131722" stroke-width="0.15" textLength="143.43" lengthAdjust="spacingAndGlyphs">+0.008 (+0.41%)</text>
<text x="726.2" y="71.1" font-size="17.1" fill="#131722" stroke="#131722" stroke-width="0.15" textLength="26.19" lengthAdjust="spacingAndGlyphs">Vol</text>
<text x="751.9" y="71.1" font-size="17.1" fill="#131722" stroke="#131722" stroke-width="0.15" textLength="38.20" lengthAdjust="spacingAndGlyphs">3.98</text>
<text x="792.7" y="71.1" font-size="17.1" fill="#131722" stroke="#131722" stroke-width="0.15" textLength="17.31" lengthAdjust="spacingAndGlyphs">M</text>
<text x="27.3" y="96.4" font-size="17.1" fill="#131722" stroke="#131722" stroke-width="0.15" textLength="203.11" lengthAdjust="spacingAndGlyphs">Support and Resistance</text>
<text x="241.1" y="96.4" font-size="17.1" fill="#14c3cd" stroke="#14c3cd" stroke-width="0.15" textLength="44.25" lengthAdjust="spacingAndGlyphs">2.071</text>
<text x="296.2" y="96.4" font-size="17.1" fill="#da1f4b" stroke="#da1f4b" stroke-width="0.15" textLength="46.24" lengthAdjust="spacingAndGlyphs">1.532</text>
<text x="26.6" y="121.8" font-size="17.1" fill="#131722" stroke="#131722" stroke-width="0.15" textLength="170.74" lengthAdjust="spacingAndGlyphs">EMA 20/50/100/200</text>
<text x="207.8" y="121.8" font-size="17.1" fill="#ff1a1a" stroke="#ff1a1a" stroke-width="0.15" textLength="43.71" lengthAdjust="spacingAndGlyphs">1.810</text>
<text x="261.9" y="121.8" font-size="17.1" fill="#ff8a17" stroke="#ff8a17" stroke-width="0.15" textLength="46.86" lengthAdjust="spacingAndGlyphs">1.820</text>
<text x="318.9" y="121.8" font-size="17.1" fill="#19f0fa" stroke="#19f0fa" stroke-width="0.15" textLength="46.95" lengthAdjust="spacingAndGlyphs">1.803</text>
<text x="376" y="121.8" font-size="17.1" fill="#1212f5" stroke="#1212f5" stroke-width="0.15" textLength="45.34" lengthAdjust="spacingAndGlyphs">1.755</text>
<text x="26.8" y="540.7" font-size="17.1" fill="#131722" stroke="#131722" stroke-width="0.15" textLength="29.37" lengthAdjust="spacingAndGlyphs">RSI</text>
<text x="65.3" y="540.7" font-size="17.1" fill="#7e57c2" stroke="#7e57c2" stroke-width="0.15" textLength="50.16" lengthAdjust="spacingAndGlyphs">63.85</text>
<text x="125.8" y="540.7" font-size="17.1" fill="#ffe53b" stroke="#ffe53b" stroke-width="0.15" textLength="50.45" lengthAdjust="spacingAndGlyphs">42.43</text>
<text x="192.2" y="540.1" font-size="13.5" font-family="DejaVu Sans, sans-serif" font-weight="bold" fill="#131722" text-anchor="middle">∅</text>
<text x="215.7" y="540.1" font-size="13.5" font-family="DejaVu Sans, sans-serif" font-weight="bold" fill="#131722" text-anchor="middle">∅</text>
<text x="238.8" y="540.1" font-size="13.5" font-family="DejaVu Sans, sans-serif" font-weight="bold" fill="#131722" text-anchor="middle">∅</text>
<text x="262.2" y="540.1" font-size="13.5" font-family="DejaVu Sans, sans-serif" font-weight="bold" fill="#131722" text-anchor="middle">∅</text>
<text x="1938.1" y="150" font-size="19" fill="#131722" stroke="#131722" stroke-width="0.15" textLength="50.66" lengthAdjust="spacingAndGlyphs">3.500</text>
<text x="1938.1" y="223.6" font-size="19" fill="#131722" stroke="#131722" stroke-width="0.15" textLength="50.66" lengthAdjust="spacingAndGlyphs">3.000</text>
<text x="1937.9" y="297.3" font-size="19" fill="#131722" stroke="#131722" stroke-width="0.15" textLength="50.92" lengthAdjust="spacingAndGlyphs">2.500</text>
<text x="1937.9" y="370.9" font-size="19" fill="#131722" stroke="#131722" stroke-width="0.15" textLength="50.92" lengthAdjust="spacingAndGlyphs">2.000</text>
<text x="1937.3" y="444.6" font-size="19" fill="#131722" stroke="#131722" stroke-width="0.15" textLength="51.47" lengthAdjust="spacingAndGlyphs">1.500</text>
<rect x="1925" y="362" width="106" height="44" fill="#fff"/>
<text x="1937.3" y="380.1" font-size="19" fill="#131722" stroke="#131722" stroke-width="0.15" textLength="51.58" lengthAdjust="spacingAndGlyphs">1.936</text>
<text x="1937.7" y="401.6" font-size="19" fill="#595a5f" stroke="#595a5f" stroke-width="0.15" textLength="79.15" lengthAdjust="spacingAndGlyphs">01:46:45</text>
<text x="1938" y="553.4" font-size="19" fill="#131722" stroke="#131722" stroke-width="0.15" textLength="50.77" lengthAdjust="spacingAndGlyphs">80.00</text>
<text x="1937.9" y="611" font-size="19" fill="#131722" stroke="#131722" stroke-width="0.15" textLength="50.94" lengthAdjust="spacingAndGlyphs">70.00</text>
<text x="1937.9" y="668.5" font-size="19" fill="#131722" stroke="#131722" stroke-width="0.15" textLength="50.93" lengthAdjust="spacingAndGlyphs">60.00</text>
<text x="1938.1" y="726.1" font-size="19" fill="#131722" stroke="#131722" stroke-width="0.15" textLength="50.70" lengthAdjust="spacingAndGlyphs">50.00</text>
<text x="1938.4" y="783.6" font-size="19" fill="#131722" stroke="#131722" stroke-width="0.15" textLength="50.35" lengthAdjust="spacingAndGlyphs">40.00</text>
<text x="1938.1" y="841.2" font-size="19" fill="#131722" stroke="#131722" stroke-width="0.15" textLength="50.66" lengthAdjust="spacingAndGlyphs">30.00</text>
<rect x="1930" y="46.5" width="96.8" height="39.6" rx="6" fill="#fff" stroke="#e9ebf1" stroke-width="1.3"/>
<text x="1943.8" y="72.2" font-size="18" fill="#131722" stroke="#131722" stroke-width="0.15" textLength="48.79" lengthAdjust="spacingAndGlyphs">USDT</text>
<text x="83.7" y="912.3" font-size="17.9" fill="#131722" font-weight="bold" textLength="28.71" lengthAdjust="spacingAndGlyphs">Jul</text>
<text x="293.5" y="912.3" font-size="19" fill="#131722" stroke="#131722" stroke-width="0.15" textLength="22.38" lengthAdjust="spacingAndGlyphs">15</text>
<text x="405.2" y="912.3" font-size="19" fill="#131722" stroke="#131722" stroke-width="0.15" textLength="50.63" lengthAdjust="spacingAndGlyphs">13:30</text>
<text x="538.5" y="912.3" font-size="17.9" fill="#131722" font-weight="bold" textLength="36.00" lengthAdjust="spacingAndGlyphs">Aug</text>
<text x="708.2" y="912.3" font-size="19" fill="#131722" stroke="#131722" stroke-width="0.15" textLength="22.57" lengthAdjust="spacingAndGlyphs">12</text>
<text x="841.3" y="912.3" font-size="19" fill="#131722" stroke="#131722" stroke-width="0.15" textLength="21.96" lengthAdjust="spacingAndGlyphs">21</text>
<text x="997.4" y="912.3" font-size="17.9" fill="#131722" font-weight="bold" textLength="35.35" lengthAdjust="spacingAndGlyphs">Sep</text>
<text x="1225.4" y="912.3" font-size="19" fill="#131722" stroke="#131722" stroke-width="0.15" textLength="23.54" lengthAdjust="spacingAndGlyphs">16</text>
<text x="1442.5" y="912.3" font-size="17.9" fill="#131722" font-weight="bold" textLength="32.75" lengthAdjust="spacingAndGlyphs">Oct</text>
<text x="1641.2" y="912.3" font-size="19" fill="#131722" stroke="#131722" stroke-width="0.15" textLength="22.10" lengthAdjust="spacingAndGlyphs">14</text>
<text x="1774.3" y="912.3" font-size="19" fill="#131722" stroke="#131722" stroke-width="0.15" textLength="22.62" lengthAdjust="spacingAndGlyphs">23</text>
<g clip-path="url(#cpN)">
<text x="1900.8" y="912.3" font-size="17.9" fill="#131722" font-weight="bold" textLength="34.81" lengthAdjust="spacingAndGlyphs">Nov</text>
</g>
<path d="M15.1 944.4h12v14.8h-6.2v-8.7h-5.8z M29.8 947.2a2.9 2.9 0 1 0 5.8 0a2.9 2.9 0 1 0-5.8 0z M38.4 944.4h6.4l-6.2 14.8h-6.4z" fill="#d1d4dc"/>
<text x="50.5" y="960.2" font-size="20.3" fill="#d1d4dc" stroke="#d1d4dc" stroke-width="0.15" textLength="111.40" lengthAdjust="spacingAndGlyphs">TradingView</text>
</g>
</svg>
</body></html>
